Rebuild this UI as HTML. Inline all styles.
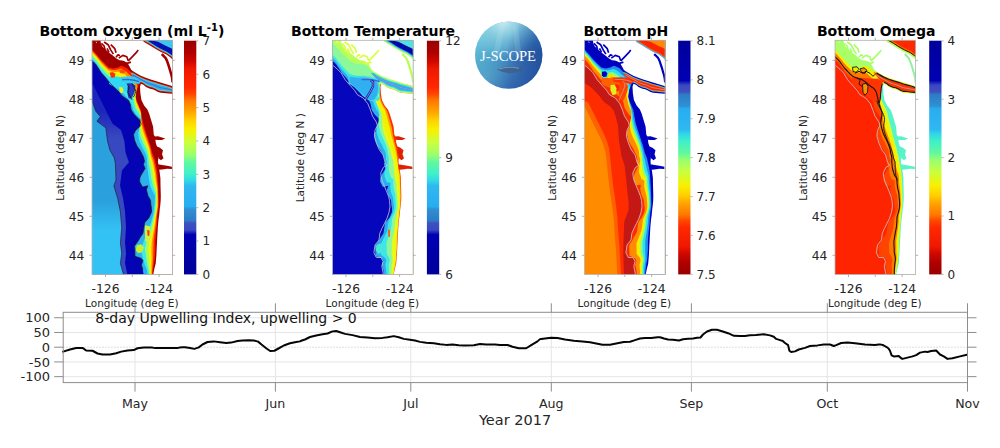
<!DOCTYPE html><html><head><meta charset="utf-8"><style>html,body{margin:0;padding:0;background:#fff;}svg{display:block}</style></head><body>
<svg width="1000" height="448" viewBox="0 0 1000 448" font-family="'DejaVu Sans', 'Liberation Sans', sans-serif">
<defs>
<linearGradient id="jetN" x1="0" y1="0" x2="0" y2="1"><stop offset="0.000" stop-color="#980000"/><stop offset="0.050" stop-color="#b00000"/><stop offset="0.090" stop-color="#d00800"/><stop offset="0.120" stop-color="#f01800"/><stop offset="0.200" stop-color="#ff2800"/><stop offset="0.230" stop-color="#ff4800"/><stop offset="0.255" stop-color="#ff7800"/><stop offset="0.300" stop-color="#ffa000"/><stop offset="0.340" stop-color="#ffd000"/><stop offset="0.380" stop-color="#f8f000"/><stop offset="0.440" stop-color="#c8ff40"/><stop offset="0.490" stop-color="#98ff70"/><stop offset="0.520" stop-color="#60f8a0"/><stop offset="0.570" stop-color="#40f0c8"/><stop offset="0.600" stop-color="#30d8e8"/><stop offset="0.620" stop-color="#30b8f0"/><stop offset="0.710" stop-color="#28acf0"/><stop offset="0.720" stop-color="#3090d4"/><stop offset="0.770" stop-color="#2c7cc4"/><stop offset="0.780" stop-color="#4050c0"/><stop offset="0.810" stop-color="#3848c0"/><stop offset="0.830" stop-color="#0000b4"/><stop offset="1.000" stop-color="#00009a"/></linearGradient>
<linearGradient id="jetR" x1="0" y1="0" x2="0" y2="1"><stop offset="0.000" stop-color="#00009a"/><stop offset="0.170" stop-color="#0000b4"/><stop offset="0.190" stop-color="#3848c0"/><stop offset="0.220" stop-color="#4050c0"/><stop offset="0.230" stop-color="#2c7cc4"/><stop offset="0.280" stop-color="#3090d4"/><stop offset="0.290" stop-color="#28acf0"/><stop offset="0.380" stop-color="#30b8f0"/><stop offset="0.400" stop-color="#30d8e8"/><stop offset="0.430" stop-color="#40f0c8"/><stop offset="0.480" stop-color="#60f8a0"/><stop offset="0.510" stop-color="#98ff70"/><stop offset="0.560" stop-color="#c8ff40"/><stop offset="0.620" stop-color="#f8f000"/><stop offset="0.660" stop-color="#ffd000"/><stop offset="0.700" stop-color="#ffa000"/><stop offset="0.745" stop-color="#ff7800"/><stop offset="0.770" stop-color="#ff4800"/><stop offset="0.800" stop-color="#ff2800"/><stop offset="0.880" stop-color="#f01800"/><stop offset="0.910" stop-color="#d00800"/><stop offset="0.950" stop-color="#b00000"/><stop offset="1.000" stop-color="#980000"/></linearGradient>
<clipPath id="mapclip"><rect x="0" y="0" width="80.6" height="234.1"/></clipPath>
</defs>
<rect width="1000" height="448" fill="#fff"/>
<g transform="translate(92.0,40.3)">
<g clip-path="url(#mapclip)">
<rect x="-2" y="-2" width="84.6" height="238.1" fill="#0404b4"/><linearGradient id="mbg" gradientUnits="userSpaceOnUse" x1="0" y1="70" x2="0" y2="98"><stop offset="0" stop-color="#1c26ba"/><stop offset="1" stop-color="#3848c0"/></linearGradient><polygon points="-2.0,44.3 0.9,44.3 8.3,59.0 15.6,73.7 20.6,83.5 29.0,89.7 32.4,100.9 33.5,112.0 35.7,118.7 37.0,122.0 30.0,130.0 28.0,145.0 31.0,158.0 33.0,171.0 34.0,187.0 33.0,202.0 34.0,213.0 33.0,223.0 36.0,237.0 -2.0,237.0" fill="url(#mbg)"/><linearGradient id="lbg" gradientUnits="userSpaceOnUse" x1="0" y1="160" x2="0" y2="190"><stop offset="0" stop-color="#2aa0dc"/><stop offset="1" stop-color="#34c2f4"/></linearGradient><polygon points="-2.0,61.0 0.5,61.9 3.8,70.9 8.3,76.4 4.9,80.9 9.4,84.3 13.9,87.6 14.5,93.0 15.6,100.9 17.9,109.8 22.3,117.6 23.4,123.2 24.0,139.7 21.9,145.6 25.8,158.5 28.4,171.5 29.7,187.0 28.4,202.6 29.7,212.9 28.4,223.3 32.3,237.0 -2.0,237.0" fill="url(#lbg)"/><polyline points="0.5,61.9 3.8,70.9 8.3,76.4 4.9,80.9 9.4,84.3 13.9,87.6 14.5,93.0 15.6,100.9 17.9,109.8 22.3,117.6 23.4,123.2 24.0,139.7 21.9,145.6 25.8,158.5 28.4,171.5 29.7,187.0 28.4,202.6 29.7,212.9 28.4,223.3 32.3,237.0" fill="none" stroke="#202040" stroke-width="0.7" stroke-linejoin="round"/><polygon points="-2.0,19.5 0.1,20.5 3.5,23.6 7.0,29.0 9.3,32.6 12.7,36.4 18.3,43.1 23.9,48.7 27.3,52.0 30.0,55.5 33.5,58.0 36.5,60.0 38.2,64.0 39.2,69.7 42.4,74.4 47.7,79.8 49.1,83.8 47.7,86.5 43.7,89.9 41.5,94.3 42.5,99.9 44.8,105.5 48.0,110.0 51.5,116.7 52.5,121.0 51.4,124.2 53.1,128.1 49.1,134.8 47.8,137.6 47.7,141.5 50.4,146.8 55.8,145.5 54.4,149.5 55.9,155.4 58.5,160.0 58.9,164.6 59.5,168.3 59.5,171.7 57.0,177.4 52.6,182.5 50.9,193.2 48.0,197.4 46.4,200.2 42.3,206.0 42.8,209.1 43.0,216.0 49.0,218.0 50.9,220.3 49.4,224.6 50.9,229.6 52.0,237.0 52.0,240.0 90.0,240.0 90.0,-5.0 -5.0,-5.0 -5.0,19.5" fill="#2cb0f0"/><polygon points="-2.0,18.5 -0.0,19.2 1.5,20.5 3.0,21.9 4.3,23.6 5.4,25.3 6.6,27.0 7.7,28.7 8.8,30.5 10.1,32.1 11.5,33.6 12.9,35.2 14.2,36.7 15.6,38.3 16.9,39.9 18.3,41.4 19.8,42.8 21.4,44.2 23.0,45.5 24.5,46.9 26.1,48.2 27.6,49.6 29.1,51.1 30.5,52.5 32.0,54.0 33.4,55.5 34.8,57.0 36.2,58.6 37.6,60.1 38.5,62.0 39.4,63.8 40.1,65.8 40.7,67.7 41.4,69.7 42.5,71.5 43.5,73.2 44.8,74.8 46.3,76.3 47.8,77.8 49.1,79.3 49.7,81.3 50.3,83.2 50.0,85.2 49.1,87.1 48.0,88.8 46.8,90.5 46.1,92.3 46.3,94.4 46.6,96.4 46.8,98.5 47.3,100.5 48.1,102.4 49.0,104.3 49.8,106.2 50.7,108.0 51.7,109.8 52.7,111.7 53.6,113.5 54.2,115.5 54.8,117.5 55.0,119.5 55.0,121.6 55.0,123.6 55.2,125.7 55.5,127.8 55.7,129.8 56.0,131.9 56.3,133.9 56.5,136.0 56.8,138.0 57.2,140.0 57.5,142.1 57.9,144.1 58.4,146.1 59.2,148.0 60.0,149.9 61.0,151.8 62.0,153.6 63.0,155.4 62.9,157.4 62.8,159.5 62.7,161.6 62.6,163.6 62.3,165.7 62.0,167.7 61.8,169.8 61.5,171.8 61.2,173.9 60.7,175.9 60.2,177.9 59.6,179.9 59.1,181.9 58.4,183.8 57.7,185.8 57.0,187.7 56.3,189.7 55.6,191.6 54.8,193.6 54.0,195.5 53.2,197.4 52.4,199.3 51.7,201.2 51.0,203.1 50.3,205.1 49.7,207.1 49.0,209.0 49.4,211.1 49.8,213.1 50.3,215.1 50.7,217.1 51.2,219.1 51.8,221.1 52.4,223.1 53.0,225.1 53.9,227.0 54.7,228.9 55.2,230.8 55.4,232.9 55.7,234.9 56.0,237.0 56.0,240.0 90.0,240.0 90.0,-5.0 -5.0,-5.0 -5.0,18.5" fill="#40eae8"/><polygon points="-2.0,15.9 0.0,16.5 1.6,17.9 3.1,19.4 4.4,21.0 5.6,22.8 6.8,24.5 8.0,26.2 9.3,27.9 10.6,29.5 12.1,31.0 13.5,32.6 14.9,34.2 16.5,35.5 18.0,36.7 19.6,37.8 21.3,38.6 23.0,39.4 24.7,40.1 26.4,41.3 28.1,42.5 29.7,43.9 31.2,45.4 32.7,46.8 34.2,48.3 35.8,49.7 37.1,51.3 38.5,52.9 39.7,54.6 40.5,56.5 41.3,58.5 41.7,60.5 42.0,62.4 42.3,64.4 43.0,66.3 43.7,68.2 44.6,70.0 45.8,71.6 47.1,73.2 48.2,74.9 48.9,76.9 49.6,78.9 49.6,80.9 49.1,82.8 48.4,84.7 47.7,86.5 47.2,88.4 47.5,90.5 47.8,92.6 48.1,94.7 48.6,96.7 49.4,98.7 50.2,100.6 51.0,102.6 51.9,104.5 52.8,106.4 53.7,108.3 54.5,110.2 55.2,112.2 55.8,114.2 56.1,116.3 56.2,118.4 56.4,120.5 56.7,122.5 57.1,124.6 57.6,126.6 57.9,128.7 58.2,130.8 58.5,132.9 58.9,135.0 59.2,137.0 59.6,139.1 59.9,141.2 60.4,143.2 61.0,145.2 61.6,147.2 62.3,149.2 63.1,151.1 63.9,153.0 63.8,155.1 63.8,157.2 63.7,159.3 63.6,161.4 63.5,163.5 63.3,165.6 63.1,167.7 62.9,169.8 62.6,171.9 62.3,173.9 61.8,176.0 61.3,178.0 60.8,180.1 60.3,182.1 59.7,184.1 59.2,186.1 58.6,188.2 58.0,190.2 57.5,192.2 56.8,194.2 56.1,196.2 55.5,198.1 54.9,200.1 54.4,202.2 53.9,204.2 53.4,206.2 52.9,208.3 53.2,210.3 53.5,212.4 53.8,214.5 54.0,216.6 54.4,218.6 54.7,220.6 55.1,222.7 55.4,224.7 55.9,226.7 56.4,228.7 56.7,230.7 56.9,232.8 57.1,234.9 57.2,237.0 57.2,240.0 90.0,240.0 90.0,-5.0 -5.0,-5.0 -5.0,15.9" fill="#98ff68"/><polygon points="-2.0,13.8 0.1,14.3 1.6,15.7 3.1,17.3 4.5,18.9 5.8,20.6 7.0,22.3 8.3,24.0 9.7,25.7 11.1,27.3 12.6,28.8 14.0,30.4 15.5,32.0 17.2,33.0 19.0,34.0 20.7,34.6 22.6,35.1 24.4,35.3 26.2,35.5 28.0,36.5 29.8,37.7 31.5,39.0 33.0,40.5 34.5,42.0 36.2,43.4 37.8,44.8 39.1,46.4 40.5,48.1 41.5,49.9 42.3,51.9 43.0,53.9 43.1,55.9 43.0,57.9 43.0,60.0 43.4,62.0 43.8,63.9 44.3,65.8 45.4,67.6 46.5,69.4 47.5,71.2 48.3,73.2 49.0,75.2 49.3,77.2 49.1,79.2 48.7,81.2 48.3,83.1 48.2,85.1 48.5,87.2 48.8,89.3 49.2,91.4 49.8,93.5 50.5,95.5 51.3,97.5 52.1,99.5 52.9,101.5 53.7,103.4 54.5,105.4 55.3,107.4 56.0,109.4 56.6,111.5 57.0,113.5 57.3,115.7 57.6,117.8 58.0,119.8 58.6,121.9 59.1,123.9 59.5,126.0 59.9,128.1 60.3,130.3 60.6,132.4 61.0,134.5 61.4,136.6 61.6,138.7 62.0,140.8 62.5,142.9 62.9,144.9 63.5,146.9 64.0,149.0 64.6,151.0 64.6,153.1 64.6,155.2 64.6,157.4 64.6,159.5 64.5,161.7 64.4,163.8 64.3,165.9 64.2,168.0 63.9,170.2 63.6,172.3 63.1,174.4 62.7,176.5 62.3,178.6 61.9,180.6 61.5,182.7 61.1,184.8 60.6,186.9 60.1,189.0 59.7,191.0 59.1,193.1 58.6,195.1 58.1,197.2 57.7,199.3 57.2,201.3 56.9,203.4 56.5,205.5 56.2,207.6 56.4,209.7 56.6,211.8 56.7,213.9 56.9,216.1 57.0,218.2 57.2,220.3 57.3,222.3 57.5,224.4 57.7,226.5 57.9,228.5 58.1,230.6 58.1,232.7 58.2,234.9 58.2,237.0 58.2,240.0 90.0,240.0 90.0,-5.0 -5.0,-5.0 -5.0,13.8" fill="#f8f000"/><polygon points="-2.0,11.7 0.1,12.1 1.7,13.6 3.1,15.2 4.6,16.8 5.9,18.6 7.3,20.3 8.6,22.0 10.0,23.6 11.5,25.2 13.0,26.7 14.5,28.3 16.1,29.9 18.0,30.7 19.9,31.4 21.8,31.6 23.8,31.7 25.7,31.4 27.6,31.1 29.5,32.0 31.4,33.1 33.2,34.3 34.7,35.8 36.3,37.3 38.0,38.7 39.7,40.1 41.0,41.8 42.3,43.5 43.2,45.4 43.9,47.5 44.6,49.5 44.4,51.6 44.0,53.6 43.7,55.7 43.8,57.8 43.8,59.8 44.1,61.8 45.0,63.8 45.9,65.7 46.8,67.6 47.6,69.7 48.4,71.7 49.0,73.7 49.1,75.7 49.0,77.8 49.0,79.9 49.1,81.9 49.4,84.1 49.8,86.2 50.3,88.3 50.9,90.4 51.6,92.5 52.3,94.5 53.1,96.6 53.8,98.6 54.6,100.6 55.4,102.6 56.1,104.7 56.8,106.7 57.4,108.8 57.9,110.9 58.3,113.1 58.7,115.2 59.2,117.3 59.9,119.3 60.6,121.4 61.0,123.5 61.5,125.6 61.9,127.7 62.3,129.9 62.7,132.0 63.1,134.2 63.3,136.3 63.6,138.5 63.9,140.6 64.2,142.7 64.6,144.8 64.9,146.9 65.3,149.0 65.4,151.2 65.4,153.4 65.4,155.5 65.5,157.7 65.5,159.9 65.4,162.0 65.4,164.2 65.4,166.4 65.1,168.5 64.8,170.7 64.4,172.8 64.0,175.0 63.7,177.1 63.4,179.2 63.1,181.4 62.9,183.5 62.5,185.6 62.2,187.8 61.8,189.9 61.4,192.0 61.0,194.1 60.6,196.3 60.3,198.4 60.0,200.5 59.7,202.7 59.6,204.8 59.4,207.0 59.5,209.1 59.5,211.3 59.5,213.4 59.6,215.6 59.6,217.8 59.6,219.9 59.5,222.0 59.4,224.2 59.4,226.3 59.4,228.4 59.3,230.5 59.3,232.7 59.3,234.8 59.2,237.0 59.2,240.0 90.0,240.0 90.0,-5.0 -5.0,-5.0 -5.0,11.7" fill="#ff9000"/><polygon points="-2.0,10.3 0.2,10.7 1.7,12.3 3.2,13.9 4.6,15.5 6.0,17.2 7.4,19.0 8.8,20.7 10.3,22.2 11.8,23.8 13.3,25.4 14.9,26.9 16.4,28.5 18.4,29.2 20.5,29.8 22.5,29.7 24.6,29.5 26.6,29.0 28.5,28.3 30.5,29.1 32.4,30.1 34.3,31.3 35.8,32.9 37.4,34.4 39.2,35.7 40.9,37.1 42.2,38.8 43.5,40.6 44.3,42.6 45.0,44.7 45.6,46.8 45.2,48.8 44.7,50.9 44.2,53.0 44.0,55.1 43.9,57.2 44.0,59.3 44.7,61.3 45.5,63.4 46.4,65.4 47.2,67.4 48.1,69.4 48.8,71.4 49.1,73.5 49.2,75.7 49.4,77.8 49.7,79.9 50.0,82.1 50.4,84.2 51.0,86.3 51.6,88.5 52.3,90.5 53.0,92.6 53.7,94.7 54.4,96.7 55.2,98.8 55.9,100.9 56.6,102.9 57.3,105.0 58.0,107.1 58.5,109.3 58.9,111.4 59.4,113.5 60.0,115.6 60.8,117.7 61.6,119.7 62.0,121.9 62.5,124.0 62.9,126.1 63.3,128.3 63.7,130.5 64.1,132.6 64.3,134.8 64.5,137.0 64.8,139.2 65.0,141.3 65.3,143.5 65.5,145.6 65.8,147.8 65.8,150.0 65.9,152.2 66.0,154.4 66.0,156.6 66.1,158.7 66.1,160.9 66.1,163.1 66.1,165.3 65.9,167.5 65.6,169.7 65.2,171.8 64.9,174.0 64.6,176.2 64.4,178.3 64.2,180.5 64.0,182.7 63.7,184.9 63.4,187.0 63.1,189.2 62.8,191.4 62.5,193.5 62.2,195.7 62.0,197.9 61.7,200.0 61.6,202.2 61.5,204.4 61.4,206.6 61.4,208.8 61.4,210.9 61.3,213.1 61.3,215.3 61.2,217.5 61.1,219.7 60.9,221.8 60.7,224.0 60.5,226.1 60.3,228.3 60.1,230.4 60.0,232.6 60.0,234.8 59.9,237.0 59.9,240.0 90.0,240.0 90.0,-5.0 -5.0,-5.0 -5.0,10.3" fill="#ff2000"/><polygon points="-2.0,9.0 0.3,9.4 4.4,13.9 8.8,19.2 13.3,23.7 16.9,27.3 21.3,28.2 25.8,27.3 29.4,25.5 32.0,26.4 35.0,28.0 38.0,31.0 42.0,34.0 45.0,38.0 46.7,44.4 44.7,49.7 43.7,56.4 45.4,61.8 47.4,66.5 48.8,69.7 49.6,74.4 51.1,82.5 53.1,89.2 55.8,97.2 58.4,105.2 60.5,113.3 62.5,118.0 63.9,124.2 65.2,131.0 65.7,137.6 66.3,148.0 66.6,155.4 66.9,164.6 65.5,175.0 65.1,182.5 64.0,193.2 63.4,200.2 63.4,209.1 62.8,218.0 61.0,229.6 60.5,237.0 60.5,240.0 90.0,240.0 90.0,-5.0 -5.0,-5.0 -5.0,9.0" fill="#a00000"/><polygon points="44.6,205.0 49.0,204.0 52.0,207.0 50.0,212.0 46.0,213.0 44.0,210.0" fill="#c8f030"/><polygon points="55.3,189.0 57.6,190.5 57.2,196.0 55.5,195.0" fill="#ff3000"/><polygon points="53.0,185.0 58.0,186.0 59.0,197.0 56.0,203.0 53.0,200.0" fill="#d0f040"/><polygon points="55.3,189.5 57.6,190.5 57.2,196.0 55.5,195.0" fill="#ff3000"/><polygon points="38.5,30.5 41.5,31.1 44.8,33.2 48.8,35.4 53.8,37.5 58.7,39.2 63.6,40.6 68.5,42.3 73.4,43.6 78.4,45.1 80.3,46.0 84.0,46.5 84.0,52.6 80.3,53.5 76.7,53.3 71.4,52.6 68.7,52.5 66.0,51.6 63.4,50.2 60.7,48.9 58.0,48.4 54.0,46.6 51.4,44.5 48.9,43.4 46.5,43.5" fill="#a00000"/><polygon points="38.5,31.9 41.5,32.5 44.8,34.6 48.8,36.8 53.8,38.9 58.7,40.6 63.6,42.0 68.5,43.7 73.4,45.0 78.4,46.5 80.3,47.4 84.0,47.9 84.0,51.2 80.3,52.1 76.7,51.9 71.4,51.2 68.7,51.1 66.0,50.2 63.4,48.8 60.7,47.5 58.0,47.0 54.0,45.2 51.4,43.1 48.9,42.0 46.5,42.1" fill="#ff4000"/><polygon points="38.5,32.5 41.5,33.1 44.8,35.2 48.8,37.4 53.8,39.5 58.7,41.2 63.6,42.6 68.5,44.3 73.4,45.6 78.4,47.1 80.3,48.0 84.0,48.5 84.0,50.6 80.3,51.5 76.7,51.3 71.4,50.6 68.7,50.5 66.0,49.6 63.4,48.2 60.7,46.9 58.0,46.4 54.0,44.6 51.4,42.5 48.9,41.4 46.5,41.5" fill="#30e0e8"/><polygon points="38.5,33.3 41.5,33.9 44.8,36.0 48.8,38.2 53.8,40.3 58.7,42.0 63.6,43.4 68.5,45.1 73.4,46.4 78.4,47.9 80.3,48.8 84.0,49.3 84.0,49.8 80.3,50.7 76.7,50.5 71.4,49.8 68.7,49.7 66.0,48.8 63.4,47.4 60.7,46.1 58.0,45.6 54.0,43.8 51.4,41.7 48.9,40.6 46.5,40.7" fill="#30b0f0"/><polyline points="41.0,34.5 42.0,35.2 43.0,35.8 44.0,36.4 45.0,37.0 46.0,37.6 47.0,38.1 48.0,38.7 49.1,39.3 50.1,39.8 51.1,40.3 52.2,40.9 53.2,41.5 54.2,42.1 55.2,42.5 56.3,43.0 57.4,43.4 58.5,43.8 59.6,44.1 60.7,44.4 61.8,44.7 62.9,45.2 64.0,45.6 65.1,46.1 66.1,46.5 67.2,46.9 68.4,47.3 69.5,47.6 70.6,47.8 71.8,47.9 72.9,48.2 74.1,48.4 75.2,48.6 76.3,48.9 77.5,49.1 78.6,49.3 79.7,49.6 80.9,49.8 82.0,49.8 83.0,49.5" fill="none" stroke="#5060d0" stroke-width="1.0" stroke-linejoin="round"/><polygon points="18.0,35.0 25.0,36.5 32.0,37.5 38.0,38.5 41.0,41.0 42.0,46.0 40.0,50.0 35.0,52.0 30.0,50.0 25.0,47.5 20.0,45.5 17.0,43.5" fill="#30d8f4"/><polygon points="17.5,32.5 20.5,31.8 23.5,33.5 22.5,37.2 19.5,37.4" fill="#ff3000"/><polygon points="27.0,29.8 31.0,29.5 33.5,31.2 31.5,33.3 28.0,32.8" fill="#ff5000"/><polygon points="27.2,46.7 30.5,47.0 31.4,50.0 30.2,53.0 27.8,52.0" fill="#e8f020"/><polygon points="29.0,36.8 36.0,36.0 41.0,36.2 45.0,38.0 48.5,41.0 47.5,43.8 42.0,43.0 36.0,42.5 29.0,41.5" fill="#30d0f0"/><polygon points="36.0,43.0 40.5,43.0 43.5,45.5 43.2,50.0 41.5,54.5 39.0,58.5 36.5,58.0 35.5,53.5 35.5,48.0" fill="#2838c0"/><polyline points="30.0,39.3 36.0,39.1 42.0,39.9 47.0,41.3" fill="none" stroke="#4a5cd0" stroke-width="1.4" stroke-linejoin="round"/><polyline points="35.0,43.0 37.0,47.0 35.8,52.0 38.0,56.0 40.0,59.5" fill="none" stroke="#101010" stroke-width="0.8" stroke-linejoin="round"/><polyline points="40.0,43.5 42.5,47.5 43.8,51.0 42.5,55.0 41.0,57.0" fill="none" stroke="#101010" stroke-width="0.8" stroke-linejoin="round"/><polygon points="49.0,-3.0 51.6,1.4 57.2,4.6 62.9,8.3 68.5,11.4 74.1,14.0 78.5,17.1 81.0,19.6 84.0,21.0 84.0,-3.0" fill="#a00000"/><polygon points="49.0,-3.0 52.0,0.6 57.6,3.8 63.3,7.5 68.9,10.6 74.5,13.2 78.9,16.3 81.4,18.8 84.4,20.2 84.0,-3.0" fill="#ff4000"/><polygon points="49.0,-3.0 52.3,0.1 58.0,3.2 63.6,6.9 69.2,10.0 74.8,12.6 79.2,15.7 81.7,18.2 84.7,19.6 84.0,-3.0" fill="#30d0f0"/><polygon points="49.0,-3.0 52.8,-0.9 58.5,2.2 64.1,5.9 69.7,9.0 75.3,11.6 79.7,14.7 82.2,17.2 85.2,18.6 84.0,-3.0" fill="#0a10b0"/><polygon points="59.8,-3.0 59.8,0.2 66.0,1.4 72.2,4.6 78.5,7.7 84.0,10.5 84.0,-3.0" fill="#38c8f0"/><polyline points="0.1,20.5 3.5,23.6 7.0,29.0 9.3,32.6 12.7,36.4 18.3,43.1 23.9,48.7 27.3,52.0 30.0,55.5 33.5,58.0 36.5,60.0 38.2,64.0 39.2,69.7 42.4,74.4 47.7,79.8 49.1,83.8 47.7,86.5 43.7,89.9 41.5,94.3 42.5,99.9 44.8,105.5 48.0,110.0 51.5,116.7 52.5,121.0 51.4,124.2 53.1,128.1 49.1,134.8 47.8,137.6 47.7,141.5 50.4,146.8 55.8,145.5 54.4,149.5 55.9,155.4 58.5,160.0 58.9,164.6 59.5,168.3 59.5,171.7 57.0,177.4 52.6,182.5 50.9,193.2 48.0,197.4 46.4,200.2 42.3,206.0 42.8,209.1 43.0,216.0 49.0,218.0 50.9,220.3 49.4,224.6 50.9,229.6" fill="none" stroke="#181818" stroke-width="0.7" stroke-linejoin="round"/><polygon points="51.0,-2.0 51.6,1.4 57.2,4.6 62.9,8.3 68.5,11.4 74.1,14.0 78.5,17.1 81.0,19.6 82.0,20.0 82.0,45.5 80.3,46.0 78.4,45.1 73.4,43.6 68.5,42.3 63.6,40.6 58.7,39.2 53.8,37.5 48.8,35.4 44.8,33.2 41.5,31.1 39.4,29.7 37.5,26.2 36.0,23.5 33.5,21.5 30.5,20.2 27.5,20.0 24.5,18.2 21.5,15.8 18.5,13.5 15.5,11.0 12.5,8.5 10.2,6.0 8.8,3.0 8.2,-2.0" fill="#fff"/><polygon points="82.0,53.6 80.3,53.5 76.7,53.3 71.4,52.6 68.7,52.5 66.0,51.6 63.4,50.2 60.7,48.9 58.0,48.4 54.0,46.6 51.4,44.5 48.9,43.4 48.0,46.4 48.4,53.1 49.4,59.8 52.1,65.2 55.4,69.2 57.1,73.1 59.1,79.8 61.1,86.5 61.8,94.5 63.1,96.5 63.8,102.6 65.1,106.6 66.5,115.9 66.0,121.4 66.5,126.0 67.5,131.0 68.4,137.6 68.5,145.0 68.8,155.4 68.7,160.0 68.3,164.6 67.8,168.3 67.2,174.7 66.6,178.8 65.9,186.0 65.1,200.3 64.4,214.6 63.7,223.1 62.3,228.8 60.9,236.0 82.0,236.0" fill="#fff"/><polygon points="3.8,-2.0 5.3,-2.0 5.3,1.6 4.6,2.6 3.9,1.8" fill="#fff"/><polyline points="69.7,13.8 71.5,15.5 73.7,17.8 75.2,21.0 76.4,24.5 77.5,28.0 78.4,31.2 79.4,34.5 80.2,38.0 80.6,42.0" fill="none" stroke="#a00000" stroke-width="2.6" stroke-linejoin="round"/><polyline points="4.0,0.4 6.0,1.5 8.0,3.1" fill="none" stroke="#a00000" stroke-width="1.7" stroke-linejoin="round"/><polyline points="9.4,3.1 12.1,5.7 13.4,11.1 17.4,15.1" fill="none" stroke="#a00000" stroke-width="1.7" stroke-linejoin="round"/><polyline points="12.1,1.7 16.1,4.4 18.8,9.8 21.4,13.8" fill="none" stroke="#a00000" stroke-width="1.7" stroke-linejoin="round"/><polyline points="18.8,4.4 22.8,8.4 24.1,12.4" fill="none" stroke="#a00000" stroke-width="1.7" stroke-linejoin="round"/><polyline points="15.0,8.0 17.0,12.0" fill="none" stroke="#a00000" stroke-width="1.7" stroke-linejoin="round"/><polyline points="26.8,17.8 30.8,15.1 34.8,16.5 36.2,20.5" fill="none" stroke="#a00000" stroke-width="1.7" stroke-linejoin="round"/><polyline points="36.2,20.5 40.2,16.5 44.2,12.4 46.2,9.8" fill="none" stroke="#a00000" stroke-width="1.7" stroke-linejoin="round"/><polyline points="30.8,21.8 34.8,23.1 38.9,21.8" fill="none" stroke="#a00000" stroke-width="1.7" stroke-linejoin="round"/><polyline points="24.0,17.0 26.0,14.5 28.0,15.5" fill="none" stroke="#a00000" stroke-width="1.7" stroke-linejoin="round"/><polygon points="62.5,96.2 66.0,96.0 70.0,97.2 73.2,98.2 70.0,99.6 66.0,99.8 63.0,99.5" fill="#a00000"/><polygon points="64.5,106.0 68.0,107.5 71.0,110.0 70.0,114.0 71.5,118.0 69.0,120.0 66.5,118.0 65.2,112.0" fill="#a00000"/><polygon points="66.0,124.0 70.0,124.6 75.0,125.5 79.9,126.5 79.9,128.6 75.0,128.4 70.0,129.2 66.2,129.4" fill="#a00000"/>
</g>
<rect x="0" y="0" width="80.6" height="234.1" fill="none" stroke="#b4b4b4" stroke-width="0.8"/>
<path d="M13.5 0v-2.6M13.5 234.1v2.6M40.3 0v-2.6M40.3 234.1v2.6M67.1 0v-2.6M67.1 234.1v2.6M0 20.0h-2.6M80.6 20.0h2.6M0 59.0h-2.6M80.6 59.0h2.6M0 98.0h-2.6M80.6 98.0h2.6M0 137.0h-2.6M80.6 137.0h2.6M0 176.0h-2.6M80.6 176.0h2.6M0 215.0h-2.6M80.6 215.0h2.6" stroke="#a0a0a0" stroke-width="0.8" fill="none"/>
<text x="-7.6" y="24.3" font-size="12.3" text-anchor="end" fill="#262626">49</text>
<text x="-7.6" y="63.3" font-size="12.3" text-anchor="end" fill="#262626">48</text>
<text x="-7.6" y="102.3" font-size="12.3" text-anchor="end" fill="#262626">47</text>
<text x="-7.6" y="141.3" font-size="12.3" text-anchor="end" fill="#262626">46</text>
<text x="-7.6" y="180.3" font-size="12.3" text-anchor="end" fill="#262626">45</text>
<text x="-7.6" y="219.3" font-size="12.3" text-anchor="end" fill="#262626">44</text>
<text x="13.5" y="252.5" font-size="12.3" text-anchor="middle" fill="#262626">-126</text>
<text x="67.1" y="252.5" font-size="12.3" text-anchor="middle" fill="#262626">-124</text>
<text x="39.8" y="266.3" font-size="10.5" text-anchor="middle" fill="#262626">Longitude (deg E)</text>
<text transform="translate(-28.2,117.5) rotate(-90)" font-size="10.5" text-anchor="middle" fill="#262626">Latitude (deg N)</text>
<rect x="92.0" y="0.4" width="12.3" height="233.7" fill="url(#jetN)"/>
<path d="M104.3 234.1h2" stroke="#a0a0a0" stroke-width="0.8"/>
<text x="110.4" y="238.5" font-size="12" fill="#262626">0</text>
<path d="M104.3 200.74285714285713h2" stroke="#a0a0a0" stroke-width="0.8"/>
<text x="110.4" y="205.14285714285714" font-size="12" fill="#262626">1</text>
<path d="M104.3 167.3857142857143h2" stroke="#a0a0a0" stroke-width="0.8"/>
<text x="110.4" y="171.7857142857143" font-size="12" fill="#262626">2</text>
<path d="M104.3 134.0285714285714h2" stroke="#a0a0a0" stroke-width="0.8"/>
<text x="110.4" y="138.42857142857142" font-size="12" fill="#262626">3</text>
<path d="M104.3 100.67142857142858h2" stroke="#a0a0a0" stroke-width="0.8"/>
<text x="110.4" y="105.07142857142858" font-size="12" fill="#262626">4</text>
<path d="M104.3 67.31428571428572h2" stroke="#a0a0a0" stroke-width="0.8"/>
<text x="110.4" y="71.71428571428572" font-size="12" fill="#262626">5</text>
<path d="M104.3 33.957142857142856h2" stroke="#a0a0a0" stroke-width="0.8"/>
<text x="110.4" y="38.357142857142854" font-size="12" fill="#262626">6</text>
<path d="M104.3 0.5999999999999943h2" stroke="#a0a0a0" stroke-width="0.8"/>
<text x="110.4" y="4.999999999999995" font-size="12" fill="#262626">7</text>
</g>
<text x="39.5" y="35.6" font-size="14.05" font-weight="bold" fill="#000">Bottom Oxygen (ml L<tspan dy="-5" font-size="10">-1</tspan><tspan dy="5">)</tspan></text>
<g transform="translate(332.5,40.3)">
<g clip-path="url(#mapclip)">
<rect x="-2" y="-2" width="84.6" height="238.1" fill="#0606bc"/><polygon points="-2.0,19.5 0.1,20.5 3.5,23.6 7.0,29.0 9.3,32.6 12.7,36.4 18.3,43.1 23.9,48.7 27.3,52.0 30.0,55.5 33.5,58.0 36.5,60.0 38.2,64.0 39.2,69.7 42.4,74.4 47.7,79.8 49.1,83.8 47.7,86.5 43.7,89.9 41.5,94.3 42.5,99.9 44.8,105.5 48.0,110.0 51.5,116.7 52.5,121.0 51.4,124.2 53.1,128.1 49.1,134.8 47.8,137.6 47.7,141.5 50.4,146.8 55.8,145.5 54.4,149.5 55.9,155.4 58.5,160.0 58.9,164.6 59.5,168.3 59.5,171.7 57.0,177.4 52.6,182.5 50.9,193.2 48.0,197.4 46.4,200.2 42.3,206.0 42.8,209.1 43.0,216.0 49.0,218.0 50.9,220.3 49.4,224.6 50.9,229.6 52.0,237.0 52.0,240.0 90.0,240.0 90.0,-5.0 -5.0,-5.0 -5.0,19.5" fill="#2cacf0"/><polygon points="-2.0,16.7 0.0,17.5 1.7,19.0 3.3,20.5 4.6,22.3 5.8,24.1 7.1,25.9 8.4,27.7 9.7,29.5 11.2,31.1 12.7,32.7 14.1,34.4 15.6,36.1 17.2,37.5 18.8,38.8 20.5,39.9 22.3,40.9 24.0,41.8 25.6,42.7 27.4,44.0 29.1,45.4 30.5,47.0 32.0,48.7 33.7,50.0 35.5,51.3 37.4,52.6 38.7,54.3 39.7,56.2 40.3,58.3 40.7,60.5 41.2,62.7 41.9,64.6 42.6,66.5 43.4,68.3 44.5,70.1 45.5,71.8 46.6,73.6 47.4,75.6 48.0,77.7 47.5,79.7 46.6,81.4 45.6,83.0 44.8,84.8 44.2,86.8 43.7,88.8 44.1,91.0 44.5,93.2 45.0,95.3 45.7,97.4 46.5,99.5 47.6,101.4 48.7,103.3 49.7,105.2 50.7,107.2 51.6,109.2 52.6,111.2 53.2,113.4 53.7,115.5 53.5,117.6 53.5,119.7 54.3,121.7 54.5,123.8 53.8,125.7 53.1,127.7 52.6,129.6 52.1,131.6 51.9,133.8 52.0,136.0 52.7,138.0 53.5,140.1 54.4,141.9 56.1,142.1 57.7,142.4 58.1,143.7 57.6,145.8 57.8,148.0 58.2,150.1 58.6,152.3 59.4,154.3 60.2,156.3 60.7,158.4 60.9,160.6 61.1,162.8 61.4,165.0 61.5,167.2 61.3,169.4 60.7,171.5 60.0,173.6 59.1,175.5 57.9,177.4 56.8,179.2 56.0,181.1 55.7,183.3 55.4,185.5 55.1,187.7 54.8,189.9 54.2,192.0 53.2,193.9 52.2,195.8 51.4,197.8 50.4,199.8 49.4,201.7 48.5,203.6 48.1,205.7 48.4,207.9 48.4,210.1 48.5,212.3 48.5,214.5 50.0,215.6 51.5,216.8 52.9,218.0 53.8,219.8 53.5,221.9 52.9,224.0 53.0,226.1 53.4,228.2 53.7,230.4 53.9,232.6 54.1,234.8 54.3,237.0 54.3,240.0 90.0,240.0 90.0,-5.0 -5.0,-5.0 -5.0,16.7" fill="#3ee6e8"/><polygon points="-2.0,13.7 0.1,14.4 1.7,15.9 3.2,17.5 4.6,19.2 5.9,21.0 7.3,22.7 8.6,24.5 10.0,26.2 11.5,27.8 13.0,29.4 14.6,31.0 16.1,32.7 17.9,33.7 19.7,34.7 21.6,35.3 23.5,35.7 25.3,35.9 27.1,36.1 29.0,37.2 30.8,38.4 32.4,39.9 33.9,41.5 35.6,42.9 37.4,44.2 39.2,45.5 40.5,47.2 41.6,49.1 42.3,51.2 42.8,53.3 43.3,55.5 43.5,57.5 43.6,59.4 43.9,61.4 44.4,63.3 44.9,65.2 45.5,67.1 46.3,69.2 46.9,71.3 46.9,73.3 46.7,75.2 46.4,77.0 46.2,78.8 46.1,80.9 45.9,83.0 46.3,85.1 46.7,87.3 47.2,89.5 47.8,91.6 48.5,93.7 49.4,95.7 50.3,97.7 51.2,99.7 52.1,101.7 52.9,103.7 53.8,105.8 54.4,107.9 55.0,110.0 55.1,112.1 55.4,114.2 56.1,116.3 56.4,118.4 56.2,120.4 56.1,122.4 56.0,124.4 56.1,126.4 56.1,128.6 56.4,130.8 57.0,132.9 57.7,135.0 58.4,136.9 59.6,137.9 60.7,138.9 61.0,140.5 60.7,142.7 60.9,144.9 61.2,147.1 61.5,149.2 62.0,151.3 62.6,153.4 62.9,155.6 63.0,157.8 63.2,160.0 63.4,162.2 63.5,164.4 63.4,166.6 63.1,168.7 62.5,170.9 61.9,172.9 61.1,174.9 60.2,176.8 59.6,178.9 59.4,181.1 59.2,183.3 59.0,185.5 58.7,187.7 58.2,189.8 57.5,191.8 56.9,193.9 56.2,195.9 55.6,198.0 54.9,200.0 54.2,202.0 54.0,204.2 54.1,206.4 54.2,208.6 54.2,210.8 54.2,213.0 55.0,214.6 55.9,216.1 56.7,217.7 57.2,219.7 56.9,221.8 56.4,223.9 56.3,226.1 56.4,228.2 56.5,230.4 56.5,232.6 56.6,234.8 56.7,237.0 56.7,240.0 90.0,240.0 90.0,-5.0 -5.0,-5.0 -5.0,13.7" fill="#8cf89c"/><polygon points="43.4,46.6 43.2,48.1 43.0,49.5 42.8,51.0 42.8,52.4 42.8,54.0 42.8,55.7 42.7,57.3 42.9,59.0 43.3,60.6 43.8,62.2 44.4,63.7 45.1,65.3 45.8,66.8 46.6,68.3 47.4,69.7 48.2,71.2 48.7,72.7 49.1,74.4 49.4,76.0 49.7,77.6 49.7,79.3 49.8,80.8 49.7,82.4 49.7,83.9 49.9,85.5 50.1,87.1 50.3,88.7 50.8,90.3 51.2,91.9 51.7,93.5 52.3,95.1 52.8,96.7 53.4,98.3 54.0,99.8 54.6,101.4 55.2,102.9 55.8,104.5 56.4,106.1 56.9,107.7 57.4,109.3 57.9,110.9 58.3,112.5 58.7,114.1 59.1,115.7 59.5,117.3 60.1,118.8 60.7,120.4 60.9,122.0 61.0,123.6 61.1,125.2 61.2,126.8 61.3,128.4 61.4,130.1 61.6,131.7 61.7,133.4 61.9,135.1 62.2,136.7 62.4,138.3 62.7,139.9 63.2,141.1 63.6,142.4 64.0,143.7 63.9,145.3 63.9,147.0 64.0,148.6 64.1,150.3 64.3,152.0 64.5,153.6 64.7,155.3 64.9,156.9 65.1,158.6 65.1,160.3 65.2,161.9 65.3,163.6 65.4,165.3 65.2,167.0 65.1,168.6 64.8,170.3 64.4,171.9 64.1,173.6 63.7,175.2 63.4,176.8 63.1,178.4 62.8,180.0 62.6,181.6 62.5,183.3 62.3,185.0 62.1,186.6 61.9,188.3 61.7,190.0 61.4,191.6 61.1,193.2 60.7,194.8 60.4,196.5 60.1,198.1 59.8,199.7 59.5,201.3 59.3,202.9 59.2,204.6 59.3,206.3 59.3,207.9 59.3,209.6 59.2,211.3 59.1,213.0 59.3,214.5 59.5,215.9 59.8,217.4 60.0,218.8 60.0,220.4 59.8,222.0 59.5,223.7 59.2,225.3 59.1,227.0 59.0,228.6 58.9,230.3 58.9,232.0 58.9,233.6 58.8,235.3 58.8,237.0 58.8,240.0 90.0,240.0 90.0,42.6 40.4,42.6" fill="#e8f818"/><polygon points="46.7,44.4 46.1,45.9 45.5,47.5 44.9,49.0 44.6,50.6 44.3,52.3 44.1,53.9 43.8,55.5 43.9,57.1 44.4,58.7 44.9,60.3 45.4,61.9 46.1,63.4 46.7,64.9 47.4,66.4 48.0,68.0 48.7,69.5 49.0,71.1 49.3,72.7 49.6,74.3 49.9,76.0 50.2,77.6 50.5,79.2 50.8,80.8 51.1,82.5 51.6,84.1 52.0,85.6 52.5,87.2 53.0,88.8 53.5,90.4 54.0,91.9 54.6,93.5 55.1,95.1 55.6,96.6 56.1,98.2 56.6,99.8 57.2,101.4 57.7,102.9 58.2,104.5 58.6,106.1 59.0,107.7 59.5,109.3 59.9,110.9 60.3,112.5 60.8,114.0 61.5,115.6 62.1,117.1 62.6,118.6 63.0,120.3 63.4,121.9 63.7,123.5 64.1,125.1 64.4,126.7 64.7,128.4 65.0,130.0 65.2,131.6 65.4,133.3 65.5,134.9 65.6,136.6 65.7,138.2 65.8,139.9 65.9,141.5 66.0,143.2 66.1,144.8 66.2,146.5 66.3,148.1 66.4,149.8 66.4,151.4 66.5,153.1 66.6,154.7 66.6,156.4 66.7,158.0 66.7,159.7 66.8,161.3 66.8,163.0 66.9,164.6 66.7,166.3 66.5,167.9 66.2,169.5 66.0,171.2 65.8,172.8 65.6,174.5 65.4,176.1 65.4,177.8 65.3,179.4 65.2,181.1 65.1,182.7 64.9,184.3 64.7,186.0 64.6,187.6 64.4,189.3 64.2,190.9 64.1,192.6 63.9,194.2 63.8,195.9 63.6,197.5 63.5,199.2 63.4,200.8 63.4,202.5 63.4,204.1 63.4,205.8 63.4,207.4 63.4,209.1 63.3,210.7 63.2,212.4 63.1,214.0 63.0,215.7 62.8,217.3 62.7,219.0 62.4,220.6 62.1,222.2 61.9,223.9 61.6,225.5 61.4,227.1 61.1,228.8 60.9,230.4 60.8,232.1 60.7,233.7 60.6,235.4 60.5,237.0 60.5,240.0 90.0,240.0 90.0,40.4 43.7,40.4" fill="#f0f000"/><polygon points="47.6,44.0 47.2,45.6 46.9,47.2 46.7,48.8 46.6,50.5 46.5,52.1 46.5,53.7 46.5,55.4 46.7,57.0 47.1,58.6 47.5,60.2 48.1,61.7 48.8,63.2 49.5,64.7 50.3,66.2 51.2,67.6 52.1,68.9 52.7,70.4 53.2,72.0 53.7,73.6 54.1,75.2 54.5,76.8 54.9,78.4 55.3,80.0 55.7,81.6 56.1,83.2 56.6,84.8 57.1,86.4 57.5,88.0 57.8,89.6 58.1,91.2 58.4,92.8 58.7,94.4 59.1,96.0 59.6,97.6 60.0,99.2 60.4,100.8 60.8,102.4 61.3,104.0 61.7,105.6 62.2,107.2 62.6,108.8 62.9,110.4 63.2,112.0 63.5,113.7 63.9,115.2 64.3,116.8 64.5,118.4 64.7,120.1 64.8,121.7 65.1,123.4 65.3,125.0 65.6,126.6 65.9,128.3 66.2,129.9 66.5,131.5 66.7,133.2 66.9,134.8 67.1,136.4 67.2,138.1 67.3,139.7 67.3,141.4 67.4,143.1 67.4,144.7 67.5,146.4 67.6,148.0 67.6,149.7 67.7,151.3 67.7,153.0 67.8,154.6 67.8,156.3 67.8,157.9 67.7,159.6 67.7,161.3 67.7,162.9 67.7,164.6 67.5,166.2 67.2,167.9 67.0,169.5 66.9,171.1 66.7,172.8 66.5,174.4 66.3,176.1 66.1,177.7 66.0,179.4 65.8,181.0 65.7,182.7 65.5,184.3 65.4,186.0 65.3,187.6 65.1,189.3 65.0,190.9 64.9,192.6 64.8,194.2 64.6,195.9 64.5,197.5 64.4,199.2 64.3,200.8 64.3,202.5 64.2,204.1 64.2,205.8 64.1,207.4 64.1,209.1 64.0,210.8 63.9,212.4 63.8,214.1 63.7,215.7 63.6,217.4 63.4,219.0 63.2,220.7 63.0,222.3 62.8,223.9 62.4,225.6 62.1,227.2 61.8,228.8 61.5,230.4 61.3,232.1 61.1,233.7 60.9,235.4 60.7,237.0 60.7,240.0 90.0,240.0 90.0,40.0 44.6,40.0" fill="#ffa000"/><polygon points="36.0,44.0 46.0,43.5 47.5,47.0 47.2,52.0 47.5,57.0 45.5,61.0 41.0,59.0 37.0,52.0" fill="#40e0e8"/><polygon points="44.5,47.0 46.5,47.5 46.6,55.0 45.5,58.0 44.0,55.0" fill="#a0ff70"/><polygon points="48.0,43.9 47.7,45.5 47.5,47.1 47.4,48.7 47.4,50.4 47.4,52.0 47.5,53.7 47.6,55.3 47.9,56.9 48.2,58.6 48.5,60.2 49.2,61.7 50.0,63.2 50.7,64.7 51.5,66.1 52.5,67.4 53.5,68.7 54.2,70.2 54.8,71.7 55.4,73.2 55.8,74.8 56.3,76.4 56.7,78.0 57.2,79.6 57.6,81.2 58.1,82.8 58.5,84.4 59.0,86.0 59.4,87.6 59.6,89.2 59.8,90.9 60.1,92.5 60.3,94.1 60.6,95.8 61.0,97.4 61.4,99.0 61.7,100.6 62.1,102.2 62.6,103.8 63.0,105.4 63.5,107.0 63.9,108.6 64.1,110.2 64.4,111.9 64.6,113.5 64.9,115.1 65.1,116.7 65.3,118.4 65.3,120.0 65.4,121.7 65.7,123.3 65.9,124.9 66.1,126.6 66.4,128.2 66.8,129.8 67.0,131.5 67.3,133.1 67.5,134.8 67.7,136.4 67.8,138.0 67.9,139.7 67.9,141.4 67.9,143.0 68.0,144.7 68.0,146.3 68.1,148.0 68.1,149.6 68.2,151.3 68.2,153.0 68.3,154.6 68.3,156.3 68.2,157.9 68.2,159.6 68.1,161.2 68.1,162.9 68.0,164.5 67.8,166.2 67.6,167.8 67.4,169.5 67.2,171.1 67.0,172.8 66.9,174.4 66.7,176.1 66.5,177.7 66.3,179.4 66.1,181.0 66.0,182.7 65.8,184.3 65.6,186.0 65.5,187.6 65.4,189.3 65.3,190.9 65.2,192.6 65.1,194.2 65.0,195.9 64.9,197.5 64.8,199.2 64.7,200.8 64.6,202.5 64.6,204.1 64.5,205.8 64.5,207.5 64.4,209.1 64.3,210.8 64.2,212.4 64.1,214.1 64.0,215.7 63.9,217.4 63.7,219.0 63.6,220.7 63.4,222.3 63.1,224.0 62.8,225.6 62.4,227.2 62.0,228.8 61.8,230.4 61.5,232.1 61.3,233.7 61.1,235.4 60.8,237.0 60.8,240.0 90.0,240.0 90.0,39.9 45.0,39.9" fill="#ff3000"/><polygon points="-2.0,3.5 -1.4,3.6 -0.8,3.6 -0.3,3.7 0.3,3.8 0.8,4.0 1.3,4.2 1.8,4.4 2.3,4.6 2.8,4.9 3.1,5.3 3.4,5.8 3.7,6.3 3.9,6.8 4.2,7.4 4.4,7.9 4.9,8.2 5.4,8.5 5.8,8.8 6.3,9.1 6.8,9.4 7.3,9.7 7.5,10.2 7.8,10.7 8.0,11.2 8.3,11.7 8.5,12.3 8.8,12.8 9.2,13.1 9.7,13.5 10.1,13.8 10.6,14.2 11.1,14.5 11.5,14.9 12.0,15.2 12.5,15.6 12.9,15.9 13.3,16.4 13.7,16.8 14.1,17.2 14.5,17.7 14.9,18.1 15.3,18.5 15.7,18.9 16.1,19.4 16.5,19.8 17.0,20.1 17.4,20.5 17.9,20.8 18.4,21.1 18.9,21.3 19.5,21.6 20.0,21.8 20.5,22.1 21.0,22.3 21.5,22.6 22.1,22.8 22.6,22.9 23.1,23.1 23.6,23.2 24.1,23.4 24.6,23.5 25.2,23.6 25.7,23.7 26.3,23.8 26.8,23.8 27.3,23.8 27.8,23.9 28.4,23.9 28.9,23.8 29.5,23.8 30.0,23.8 30.6,23.9 31.2,24.1 31.7,24.2 32.3,24.4 32.8,24.6 33.4,24.8 33.9,25.0 34.3,25.4 34.7,25.8 35.1,26.2 35.5,26.7 35.8,27.1 36.2,27.6 36.5,28.1 36.9,28.5 37.4,28.9 37.8,29.3 38.2,29.7 38.6,30.1 39.1,30.5 39.5,30.9 40.0,31.2 40.4,31.6 40.8,32.0 41.3,32.4 41.7,32.8 42.2,33.1 42.6,33.5 42.9,34.0 43.2,34.5 43.5,35.0 43.8,35.5 44.1,36.0 44.4,36.5 44.7,37.0 45.0,37.5 45.3,38.1 45.5,38.6 45.7,39.1 45.9,39.7 46.1,40.2 46.3,40.8 46.6,41.3 46.8,41.9 47.0,42.4 47.2,42.9 47.4,43.5 47.6,44.0 90.0,44.0 90.0,-5.0 -5.0,-5.0 -5.0,3.5" fill="#b8ff58"/><polygon points="44.0,205.0 48.0,203.0 50.0,207.0 49.0,212.0 46.0,214.0 43.5,210.0" fill="#48e8d8"/><polygon points="55.5,189.0 57.5,190.0 57.5,197.0 55.8,196.0" fill="#ff6000"/><polygon points="38.5,30.5 41.5,31.1 44.8,33.2 48.8,35.4 53.8,37.5 58.7,39.2 63.6,40.6 68.5,42.3 73.4,43.6 78.4,45.1 80.3,46.0 84.0,46.5 84.0,52.6 80.3,53.5 76.7,53.3 71.4,52.6 68.7,52.5 66.0,51.6 63.4,50.2 60.7,48.9 58.0,48.4 54.0,46.6 51.4,44.5 48.9,43.4 46.5,43.5" fill="#c0ff50"/><polygon points="38.5,31.9 41.5,32.5 44.8,34.6 48.8,36.8 53.8,38.9 58.7,40.6 63.6,42.0 68.5,43.7 73.4,45.0 78.4,46.5 80.3,47.4 84.0,47.9 84.0,51.2 80.3,52.1 76.7,51.9 71.4,51.2 68.7,51.1 66.0,50.2 63.4,48.8 60.7,47.5 58.0,47.0 54.0,45.2 51.4,43.1 48.9,42.0 46.5,42.1" fill="#40e8e0"/><polygon points="38.5,32.9 41.5,33.5 44.8,35.6 48.8,37.8 53.8,39.9 58.7,41.6 63.6,43.0 68.5,44.7 73.4,46.0 78.4,47.5 80.3,48.4 84.0,48.9 84.0,50.2 80.3,51.1 76.7,50.9 71.4,50.2 68.7,50.1 66.0,49.2 63.4,47.8 60.7,46.5 58.0,46.0 54.0,44.2 51.4,42.1 48.9,41.0 46.5,41.1" fill="#30b0f0"/><polyline points="41.0,34.5 42.0,35.2 43.0,35.8 44.0,36.4 45.0,37.0 46.0,37.6 47.0,38.1 48.0,38.7 49.1,39.3 50.1,39.8 51.1,40.3 52.2,40.9 53.2,41.5 54.2,42.1 55.2,42.5 56.3,43.0 57.4,43.4 58.5,43.8 59.6,44.1 60.7,44.4 61.8,44.7 62.9,45.2 64.0,45.6 65.1,46.1 66.1,46.5 67.2,46.9 68.4,47.3 69.5,47.6 70.6,47.8 71.8,47.9 72.9,48.2 74.1,48.4 75.2,48.6 76.3,48.9 77.5,49.1 78.6,49.3 79.7,49.6 80.9,49.8 82.0,49.8 83.0,49.5" fill="none" stroke="#5060d0" stroke-width="1.0" stroke-linejoin="round"/><polygon points="16.0,34.5 25.0,35.5 32.0,35.5 38.0,36.5 43.0,38.0 46.0,41.0 47.0,46.0 46.5,52.0 45.0,57.0 41.0,61.0 36.0,60.0 30.0,55.0 22.0,47.0 16.0,43.0" fill="#40e0e8"/><polygon points="17.0,36.5 25.0,37.5 32.0,37.3 38.0,38.5 42.5,39.8 45.0,43.0 45.8,48.0 44.5,55.0 41.5,59.5 37.0,60.0 30.0,54.0 22.0,46.5 17.0,42.5" fill="#30b0f0"/><polyline points="29.0,39.3 36.0,39.1 42.0,39.9 47.0,41.3" fill="none" stroke="#4a5cd0" stroke-width="1.4" stroke-linejoin="round"/><polyline points="38.0,40.0 40.5,41.5 40.5,46.0 38.0,51.0 35.0,56.0 32.5,60.0" fill="none" stroke="#1020b0" stroke-width="2.4" stroke-linejoin="round"/><polyline points="38.0,40.0 40.5,41.5 40.5,46.0 38.0,51.0 35.0,56.0 32.5,60.0" fill="none" stroke="#b8b8d0" stroke-width="0.7" stroke-linejoin="round"/><polygon points="49.0,-3.0 51.6,1.4 57.2,4.6 62.9,8.3 68.5,11.4 74.1,14.0 78.5,17.1 81.0,19.6 84.0,21.0 84.0,-3.0" fill="#c0ff50"/><polygon points="49.0,-3.0 52.1,0.4 57.8,3.6 63.4,7.3 69.0,10.4 74.6,13.0 79.0,16.1 81.5,18.6 84.5,20.0 84.0,-3.0" fill="#40e0e8"/><polygon points="49.0,-3.0 52.4,-0.2 58.0,3.0 63.7,6.7 69.3,9.8 74.9,12.4 79.3,15.5 81.8,18.0 84.8,19.4 84.0,-3.0" fill="#30a8f0"/><polygon points="49.0,-3.0 52.8,-0.9 58.5,2.2 64.1,5.9 69.7,9.0 75.3,11.6 79.7,14.7 82.2,17.2 85.2,18.6 84.0,-3.0" fill="#0008a8"/><polygon points="59.8,-3.0 59.8,0.2 66.0,1.4 72.2,4.6 78.5,7.7 84.0,10.5 84.0,-3.0" fill="#50e0e0"/><polyline points="0.5,25.2 5.0,29.0 8.5,32.5 12.7,39.5 17.5,45.0 22.0,50.0 25.0,54.5 30.8,57.8 35.4,63.5 38.0,70.0 40.1,76.0 44.0,82.0 44.8,85.3 42.5,90.0 41.9,95.9 44.0,103.0 46.9,109.7 50.5,114.5 51.5,118.0 52.5,121.8 54.5,125.0 50.9,127.1 48.3,132.5 48.6,136.0 49.6,140.5 53.6,149.9 56.0,156.0 57.0,160.0 57.5,166.0 56.5,172.0 54.5,178.0 52.0,183.0 49.5,188.0 47.3,193.0 46.5,199.7 42.5,204.7 41.4,212.5 43.8,217.2 48.5,217.2 50.5,221.0 49.3,226.0 51.0,234.7" fill="none" stroke="#c8c8d0" stroke-width="0.8" stroke-linejoin="round"/><polyline points="41.0,34.5 42.0,35.2 43.0,35.8 44.0,36.4 45.0,37.0 46.0,37.6 47.0,38.1 48.0,38.7 49.1,39.3 50.1,39.8 51.1,40.3 52.2,40.9 53.2,41.5 54.2,42.1 55.2,42.5 56.3,43.0 57.4,43.4 58.5,43.8 59.6,44.1 60.7,44.4 61.8,44.7 62.9,45.2 64.0,45.6 65.1,46.1 66.1,46.5 67.2,46.9 68.4,47.3 69.5,47.6 70.6,47.8 71.8,47.9 72.9,48.2 74.1,48.4 75.2,48.6 76.3,48.9 77.5,49.1 78.6,49.3 79.7,49.6 80.9,49.8 82.0,49.8 83.0,49.5" fill="none" stroke="#b8b8d0" stroke-width="0.7" stroke-linejoin="round"/><polygon points="51.0,-2.0 51.6,1.4 57.2,4.6 62.9,8.3 68.5,11.4 74.1,14.0 78.5,17.1 81.0,19.6 82.0,20.0 82.0,45.5 80.3,46.0 78.4,45.1 73.4,43.6 68.5,42.3 63.6,40.6 58.7,39.2 53.8,37.5 48.8,35.4 44.8,33.2 41.5,31.1 39.4,29.7 37.5,26.2 36.0,23.5 33.5,21.5 30.5,20.2 27.5,20.0 24.5,18.2 21.5,15.8 18.5,13.5 15.5,11.0 12.5,8.5 10.2,6.0 8.8,3.0 8.2,-2.0" fill="#fff"/><polygon points="82.0,53.6 80.3,53.5 76.7,53.3 71.4,52.6 68.7,52.5 66.0,51.6 63.4,50.2 60.7,48.9 58.0,48.4 54.0,46.6 51.4,44.5 48.9,43.4 48.0,46.4 48.4,53.1 49.4,59.8 52.1,65.2 55.4,69.2 57.1,73.1 59.1,79.8 61.1,86.5 61.8,94.5 63.1,96.5 63.8,102.6 65.1,106.6 66.5,115.9 66.0,121.4 66.5,126.0 67.5,131.0 68.4,137.6 68.5,145.0 68.8,155.4 68.7,160.0 68.3,164.6 67.8,168.3 67.2,174.7 66.6,178.8 65.9,186.0 65.1,200.3 64.4,214.6 63.7,223.1 62.3,228.8 60.9,236.0 82.0,236.0" fill="#fff"/><polygon points="3.8,-2.0 5.3,-2.0 5.3,1.6 4.6,2.6 3.9,1.8" fill="#fff"/><polyline points="69.7,13.8 71.5,15.5 73.7,17.8 75.2,21.0 76.4,24.5 77.5,28.0 78.4,31.2 79.4,34.5 80.2,38.0 80.6,42.0" fill="none" stroke="#b8ff50" stroke-width="2.2" stroke-linejoin="round"/><polyline points="4.0,0.4 6.0,1.5 8.0,3.1" fill="none" stroke="#d8ff40" stroke-width="1.7" stroke-linejoin="round"/><polyline points="9.4,3.1 12.1,5.7 13.4,11.1 17.4,15.1" fill="none" stroke="#d8ff40" stroke-width="1.7" stroke-linejoin="round"/><polyline points="12.1,1.7 16.1,4.4 18.8,9.8 21.4,13.8" fill="none" stroke="#d8ff40" stroke-width="1.7" stroke-linejoin="round"/><polyline points="18.8,4.4 22.8,8.4 24.1,12.4" fill="none" stroke="#d8ff40" stroke-width="1.7" stroke-linejoin="round"/><polyline points="15.0,8.0 17.0,12.0" fill="none" stroke="#d8ff40" stroke-width="1.7" stroke-linejoin="round"/><polyline points="26.8,17.8 30.8,15.1 34.8,16.5 36.2,20.5" fill="none" stroke="#d8ff40" stroke-width="1.7" stroke-linejoin="round"/><polyline points="36.2,20.5 40.2,16.5 44.2,12.4 46.2,9.8" fill="none" stroke="#d8ff40" stroke-width="1.7" stroke-linejoin="round"/><polyline points="30.8,21.8 34.8,23.1 38.9,21.8" fill="none" stroke="#d8ff40" stroke-width="1.7" stroke-linejoin="round"/><polyline points="24.0,17.0 26.0,14.5 28.0,15.5" fill="none" stroke="#d8ff40" stroke-width="1.7" stroke-linejoin="round"/><polygon points="62.5,96.2 66.0,96.0 70.0,97.2 73.2,98.2 70.0,99.6 66.0,99.8 63.0,99.5" fill="#e02000"/><polygon points="64.5,106.0 68.0,107.5 71.0,110.0 70.0,114.0 71.5,118.0 69.0,120.0 66.5,118.0 65.2,112.0" fill="#e02000"/><polygon points="66.0,124.0 70.0,124.6 75.0,125.5 79.9,126.5 79.9,128.6 75.0,128.4 70.0,129.2 66.2,129.4" fill="#e02000"/>
</g>
<rect x="0" y="0" width="80.6" height="234.1" fill="none" stroke="#b4b4b4" stroke-width="0.8"/>
<path d="M13.5 0v-2.6M13.5 234.1v2.6M40.3 0v-2.6M40.3 234.1v2.6M67.1 0v-2.6M67.1 234.1v2.6M0 20.0h-2.6M80.6 20.0h2.6M0 59.0h-2.6M80.6 59.0h2.6M0 98.0h-2.6M80.6 98.0h2.6M0 137.0h-2.6M80.6 137.0h2.6M0 176.0h-2.6M80.6 176.0h2.6M0 215.0h-2.6M80.6 215.0h2.6" stroke="#a0a0a0" stroke-width="0.8" fill="none"/>
<text x="-7.6" y="24.3" font-size="12.3" text-anchor="end" fill="#262626">49</text>
<text x="-7.6" y="63.3" font-size="12.3" text-anchor="end" fill="#262626">48</text>
<text x="-7.6" y="102.3" font-size="12.3" text-anchor="end" fill="#262626">47</text>
<text x="-7.6" y="141.3" font-size="12.3" text-anchor="end" fill="#262626">46</text>
<text x="-7.6" y="180.3" font-size="12.3" text-anchor="end" fill="#262626">45</text>
<text x="-7.6" y="219.3" font-size="12.3" text-anchor="end" fill="#262626">44</text>
<text x="13.5" y="252.5" font-size="12.3" text-anchor="middle" fill="#262626">-126</text>
<text x="67.1" y="252.5" font-size="12.3" text-anchor="middle" fill="#262626">-124</text>
<text x="39.8" y="266.3" font-size="10.5" text-anchor="middle" fill="#262626">Longitude (deg E)</text>
<text transform="translate(-28.2,117.5) rotate(-90)" font-size="10.5" text-anchor="middle" fill="#262626">Latitude (deg N )</text>
<rect x="94.4" y="0.4" width="12.3" height="233.7" fill="url(#jetN)"/>
<path d="M106.7 234.1h2" stroke="#a0a0a0" stroke-width="0.8"/>
<text x="112.80000000000001" y="238.5" font-size="12" fill="#262626">6</text>
<path d="M106.7 117.35h2" stroke="#a0a0a0" stroke-width="0.8"/>
<text x="112.80000000000001" y="121.75" font-size="12" fill="#262626">9</text>
<path d="M106.7 0.5999999999999943h2" stroke="#a0a0a0" stroke-width="0.8"/>
<text x="112.80000000000001" y="4.999999999999995" font-size="12" fill="#262626">12</text>
</g>
<text x="291.0" y="35.6" font-size="14.05" font-weight="bold" fill="#000">Bottom Temperature</text>
<g transform="translate(584.5,40.3)">
<g clip-path="url(#mapclip)">
<rect x="-2" y="-2" width="84.6" height="238.1" fill="#ff8c00"/><polygon points="-2.0,65.0 0.2,66.1 4.2,74.2 8.2,82.2 12.2,90.2 16.2,98.3 18.9,104.7 21.0,112.0 22.0,120.0 23.5,135.0 25.5,152.0 27.5,165.0 29.3,180.0 30.2,195.0 31.5,210.0 32.9,237.0 32.9,240.0 90.0,240.0 90.0,-5.0 -5.0,-5.0 -5.0,65.0" fill="#ff6000"/><polygon points="1.5,61.0 3.7,62.1 7.7,70.2 11.7,78.2 15.7,86.2 19.7,94.3 22.4,100.7 24.5,108.0 25.5,116.0 27.0,131.0 29.0,148.0 31.0,161.0 32.8,176.0 33.7,191.0 35.0,206.0 36.4,233.0 36.4,240.0 90.0,240.0 90.0,-5.0 -5.0,-5.0 -5.0,61.0" fill="#ff2c00"/><polygon points="-2.0,42.8 1.1,43.1 7.3,47.8 13.6,54.1 19.8,61.9 25.5,66.0 29.0,70.0 31.5,77.5 33.4,85.3 34.5,100.3 37.0,116.0 40.1,125.3 41.7,139.4 43.2,154.7 44.2,163.3 44.0,170.0 41.0,178.0 39.8,181.0 39.0,200.0 38.8,213.0 39.5,237.0 39.5,240.0 90.0,240.0 90.0,-5.0 -5.0,-5.0 -5.0,42.8" fill="#c41814"/><polygon points="-2.0,24.2 0.5,25.2 5.0,29.0 8.5,32.5 12.7,39.5 17.5,45.0 22.0,50.0 25.0,54.5 30.8,57.8 35.4,63.5 38.0,70.0 40.1,76.0 44.0,82.0 44.8,85.3 42.5,90.0 41.9,95.9 44.0,103.0 46.9,109.7 50.5,114.5 51.5,118.0 52.5,121.8 54.5,125.0 50.9,127.1 48.3,132.5 48.6,136.0 49.6,140.5 53.6,149.9 56.0,156.0 57.0,160.0 57.5,166.0 56.5,172.0 54.5,178.0 52.0,183.0 49.5,188.0 47.3,193.0 46.5,199.7 42.5,204.7 41.4,212.5 43.8,217.2 48.5,217.2 50.5,221.0 49.3,226.0 51.0,234.7 51.5,237.0 51.5,240.0 90.0,240.0 90.0,-5.0 -5.0,-5.0 -5.0,24.2" fill="#ff2c00"/><polygon points="-2.0,18.4 0.0,19.3 1.7,20.8 3.3,22.3 4.6,24.1 5.8,26.0 7.0,27.8 8.2,29.7 9.5,31.5 11.0,33.1 12.4,34.8 13.9,36.5 15.3,38.1 16.8,39.7 18.3,41.3 19.9,42.7 21.5,44.1 23.2,45.4 24.8,46.7 26.4,48.2 28.0,49.7 29.4,51.3 30.8,53.0 32.6,54.4 34.4,55.6 36.3,56.9 37.6,58.5 38.5,60.6 39.1,62.7 39.5,64.8 39.9,67.0 41.0,68.9 42.0,70.8 43.2,72.5 44.5,74.2 45.9,75.8 47.3,77.5 48.0,79.5 48.7,81.6 47.8,83.6 46.6,85.2 45.1,86.7 43.9,88.4 43.1,90.4 42.3,92.4 42.7,94.6 43.1,96.8 43.7,98.9 44.5,100.9 45.3,103.0 46.5,104.9 47.7,106.7 48.8,108.6 49.8,110.6 50.8,112.6 51.8,114.5 52.4,116.7 52.9,118.8 52.4,120.9 52.4,123.0 53.3,125.0 53.3,127.0 52.3,129.0 51.4,130.9 50.4,132.8 49.7,134.8 49.3,136.9 49.3,139.1 50.0,141.2 51.0,143.2 52.0,145.0 54.0,144.7 55.9,144.5 56.4,145.6 55.7,147.7 55.9,149.8 56.4,152.0 56.9,154.1 57.8,156.1 58.8,158.1 59.4,160.2 59.6,162.4 59.8,164.6 60.1,166.8 60.2,169.0 60.1,171.1 59.3,173.2 58.4,175.2 57.4,177.2 56.1,178.9 54.7,180.6 53.8,182.5 53.4,184.7 53.1,186.9 52.8,189.1 52.5,191.3 51.7,193.3 50.6,195.2 49.4,197.0 48.4,199.0 47.3,200.9 46.1,202.7 45.0,204.6 44.6,206.6 44.9,208.8 44.9,211.0 45.0,213.2 45.0,215.4 46.9,216.3 48.8,217.2 50.6,218.1 51.8,219.9 51.5,221.9 50.8,224.0 51.0,226.1 51.6,228.3 52.0,230.4 52.3,232.6 52.6,234.8 52.9,237.0 52.9,240.0 90.0,240.0 90.0,-5.0 -5.0,-5.0 -5.0,18.4" fill="#ff8c00"/><polygon points="-2.0,14.8 0.1,15.5 1.7,17.0 3.3,18.5 4.6,20.3 5.9,22.1 7.2,23.9 8.5,25.6 9.9,27.4 11.4,29.0 12.9,30.6 14.4,32.2 15.9,33.9 17.6,35.0 19.4,36.2 21.2,36.9 23.0,37.6 24.8,38.0 26.6,38.5 28.4,39.6 30.1,40.9 31.7,42.4 33.2,44.1 34.9,45.4 36.7,46.7 38.5,48.0 39.9,49.7 40.9,51.6 41.6,53.7 42.0,55.9 42.5,58.1 42.9,60.0 43.3,62.0 43.7,63.9 44.4,65.7 45.1,67.6 45.9,69.4 46.6,71.5 47.3,73.6 47.1,75.6 46.7,77.4 46.1,79.1 45.7,80.9 45.4,83.0 45.1,85.1 45.5,87.2 45.9,89.4 46.4,91.6 47.1,93.7 47.8,95.8 48.7,97.7 49.7,99.7 50.7,101.6 51.6,103.7 52.5,105.7 53.3,107.7 54.0,109.8 54.5,112.0 54.5,114.1 54.8,116.2 55.5,118.3 55.7,120.3 55.4,122.3 55.0,124.3 54.8,126.3 54.7,128.3 54.6,130.4 54.8,132.6 55.4,134.7 56.2,136.8 57.0,138.7 58.4,139.4 59.6,140.1 59.9,141.7 59.6,143.8 59.7,146.0 60.1,148.2 60.5,150.3 61.1,152.4 61.7,154.5 62.1,156.6 62.3,158.8 62.5,161.0 62.7,163.2 62.8,165.4 62.7,167.6 62.2,169.7 61.6,171.8 60.9,173.8 59.9,175.8 59.0,177.7 58.3,179.7 58.1,181.9 57.8,184.1 57.6,186.3 57.3,188.5 56.8,190.6 56.0,192.6 55.2,194.6 54.5,196.6 53.7,198.6 52.9,200.6 52.2,202.6 51.9,204.7 52.1,206.9 52.1,209.1 52.1,211.3 52.1,213.6 53.2,214.9 54.3,216.3 55.3,217.8 56.0,219.7 55.7,221.8 55.1,223.9 55.1,226.1 55.3,228.2 55.5,230.4 55.6,232.6 55.7,234.8 55.8,237.0 55.8,240.0 90.0,240.0 90.0,-5.0 -5.0,-5.0 -5.0,14.8" fill="#f0f000"/><polygon points="-2.0,12.8 0.1,13.4 1.7,14.9 3.2,16.5 4.6,18.2 6.0,20.0 7.3,21.7 8.7,23.5 10.1,25.1 11.6,26.7 13.2,28.3 14.7,29.9 16.2,31.6 18.1,32.5 20.0,33.4 21.9,33.8 23.9,34.1 25.7,34.0 27.5,34.0 29.5,35.0 31.3,36.2 33.0,37.6 34.5,39.2 36.2,40.6 38.0,41.9 39.7,43.2 41.1,44.9 42.2,46.8 42.9,48.9 43.4,51.0 43.9,53.2 44.0,55.2 44.0,57.2 44.0,59.2 44.4,61.1 44.7,63.1 45.2,65.1 45.9,67.2 46.6,69.3 46.7,71.3 46.7,73.2 46.7,75.0 46.7,76.9 46.7,79.0 46.6,81.1 47.0,83.3 47.4,85.4 47.9,87.6 48.4,89.7 49.1,91.8 50.0,93.8 50.8,95.9 51.7,97.9 52.5,99.9 53.3,102.0 54.2,104.0 54.8,106.1 55.4,108.3 55.7,110.4 56.0,112.5 56.7,114.6 57.1,116.7 57.0,118.7 57.0,120.7 57.2,122.7 57.4,124.8 57.5,126.9 57.8,129.1 58.4,131.2 59.0,133.3 59.7,135.3 60.7,136.5 61.6,137.8 61.9,139.5 61.7,141.7 61.8,143.9 62.1,146.1 62.4,148.3 62.9,150.4 63.3,152.5 63.6,154.7 63.7,156.9 63.9,159.1 64.1,161.3 64.1,163.5 64.1,165.7 63.8,167.8 63.4,170.0 62.8,172.1 62.1,174.1 61.3,176.1 60.8,178.2 60.6,180.4 60.4,182.6 60.2,184.8 59.9,187.0 59.5,189.1 58.9,191.2 58.3,193.2 57.8,195.3 57.2,197.4 56.6,199.5 56.1,201.5 55.9,203.7 56.0,205.9 56.0,208.1 56.0,210.3 56.0,212.5 56.6,214.2 57.3,215.9 57.9,217.6 58.3,219.6 58.0,221.7 57.5,223.9 57.4,226.0 57.4,228.2 57.4,230.4 57.4,232.6 57.4,234.8 57.4,237.0 57.4,240.0 90.0,240.0 90.0,-5.0 -5.0,-5.0 -5.0,12.8" fill="#80ff80"/><polygon points="-2.0,11.7 0.1,12.3 1.7,13.8 3.2,15.4 4.6,17.1 6.0,18.8 7.4,20.6 8.7,22.3 10.2,24.0 11.8,25.6 13.3,27.1 14.8,28.7 16.4,30.3 18.3,31.2 20.3,31.9 22.3,32.1 24.3,32.2 26.2,31.9 28.1,31.6 30.0,32.6 31.9,33.7 33.6,35.0 35.2,36.6 36.8,38.0 38.6,39.4 40.4,40.7 41.7,42.4 42.9,44.3 43.6,46.3 44.1,48.5 44.7,50.6 44.6,52.7 44.3,54.7 44.2,56.7 44.4,58.7 44.5,60.7 44.8,62.8 45.5,64.9 46.2,67.0 46.5,69.0 46.7,70.9 47.0,72.8 47.2,74.7 47.3,76.8 47.4,79.0 47.8,81.2 48.2,83.3 48.6,85.5 49.2,87.6 49.8,89.8 50.6,91.8 51.4,93.8 52.2,95.9 53.0,97.9 53.8,100.0 54.6,102.1 55.3,104.2 55.9,106.3 56.2,108.4 56.7,110.5 57.4,112.6 57.8,114.7 57.9,116.8 58.1,118.9 58.4,120.9 58.8,122.9 59.0,125.1 59.4,127.2 59.9,129.4 60.5,131.5 61.1,133.5 62.0,135.0 62.6,136.5 62.9,138.4 62.8,140.6 63.0,142.8 63.2,145.0 63.4,147.2 63.8,149.3 64.2,151.5 64.4,153.6 64.5,155.8 64.6,158.1 64.8,160.3 64.9,162.5 64.9,164.7 64.7,166.8 64.3,169.0 63.8,171.1 63.2,173.2 62.6,175.2 62.1,177.3 61.9,179.6 61.7,181.8 61.6,184.0 61.3,186.2 61.0,188.3 60.5,190.4 60.0,192.5 59.5,194.7 59.1,196.8 58.6,198.9 58.1,201.0 58.0,203.1 58.0,205.3 58.1,207.6 58.1,209.8 58.0,212.0 58.5,213.8 58.9,215.6 59.3,217.5 59.5,219.6 59.1,221.7 58.7,223.9 58.5,226.0 58.4,228.2 58.4,230.4 58.3,232.6 58.3,234.8 58.3,237.0 58.3,240.0 90.0,240.0 90.0,-5.0 -5.0,-5.0 -5.0,11.7" fill="#30e0f0"/><polygon points="-2.0,10.4 0.2,10.8 1.7,12.4 3.2,14.0 4.7,15.7 6.1,17.4 7.4,19.1 8.8,20.8 10.4,22.4 11.9,24.0 13.5,25.6 15.0,27.2 16.6,28.8 18.6,29.4 20.7,30.0 22.8,30.0 24.8,29.8 26.8,29.2 28.7,28.6 30.8,29.4 32.7,30.4 34.5,31.7 36.0,33.3 37.7,34.7 39.5,36.0 41.2,37.4 42.6,39.1 43.8,40.9 44.5,43.0 45.1,45.2 45.6,47.3 45.3,49.4 44.8,51.4 44.4,53.5 44.3,55.6 44.2,57.7 44.3,59.8 45.0,61.9 45.7,64.0 46.2,66.1 46.8,68.0 47.3,70.0 47.9,72.0 48.2,74.1 48.4,76.3 48.8,78.4 49.2,80.6 49.6,82.8 50.1,84.9 50.7,87.1 51.4,89.1 52.2,91.2 52.9,93.3 53.7,95.4 54.4,97.5 55.2,99.5 55.8,101.7 56.5,103.8 57.0,105.9 57.6,108.0 58.2,110.1 58.7,112.2 59.0,114.3 59.4,116.4 60.0,118.4 60.7,120.5 61.0,122.6 61.4,124.8 62.0,127.0 62.4,129.1 63.0,131.2 63.6,133.1 64.0,134.9 64.2,137.0 64.3,139.2 64.4,141.4 64.6,143.6 64.8,145.8 65.0,147.9 65.2,150.1 65.4,152.3 65.5,154.5 65.6,156.7 65.7,158.9 65.8,161.2 65.8,163.4 65.8,165.6 65.5,167.7 65.1,169.9 64.6,172.0 64.2,174.1 63.8,176.3 63.6,178.5 63.5,180.7 63.4,182.9 63.1,185.1 62.8,187.3 62.5,189.5 62.1,191.6 61.8,193.8 61.4,195.9 61.1,198.1 60.8,200.3 60.7,202.4 60.7,204.6 60.7,206.9 60.7,209.1 60.7,211.3 60.8,213.3 60.9,215.3 61.1,217.4 61.0,219.5 60.7,221.7 60.3,223.8 60.0,226.0 59.8,228.2 59.7,230.4 59.6,232.6 59.5,234.8 59.4,237.0 59.4,240.0 90.0,240.0 90.0,-5.0 -5.0,-5.0 -5.0,10.4" fill="#2090f0"/><polygon points="-2.0,9.0 0.3,9.4 4.4,13.9 8.8,19.2 13.3,23.7 16.9,27.3 21.3,28.2 25.8,27.3 29.4,25.5 32.0,26.4 35.0,28.0 38.0,31.0 42.0,34.0 45.0,38.0 46.7,44.4 44.7,49.7 43.7,56.4 45.4,61.8 47.4,66.5 48.8,69.7 49.6,74.4 51.1,82.5 53.1,89.2 55.8,97.2 58.4,105.2 60.5,113.3 62.5,118.0 63.9,124.2 65.2,131.0 65.7,137.6 66.3,148.0 66.6,155.4 66.9,164.6 65.5,175.0 65.1,182.5 64.0,193.2 63.4,200.2 63.4,209.1 62.8,218.0 61.0,229.6 60.5,237.0 60.5,240.0 90.0,240.0 90.0,-5.0 -5.0,-5.0 -5.0,9.0" fill="#0000c0"/><polygon points="18.0,35.0 25.0,36.5 32.0,37.5 38.0,38.5 41.0,41.0 42.0,46.0 40.0,50.0 35.0,52.0 30.0,50.0 25.0,47.5 20.0,45.5 17.0,43.5" fill="#ff6000"/><polygon points="20.0,33.0 26.0,33.5 30.0,36.0 25.0,38.0 20.0,37.0" fill="#f0e000"/><polygon points="28.0,44.0 33.0,44.0 36.0,47.0 33.0,51.0 29.0,50.0" fill="#ff2000"/><polygon points="38.5,30.5 41.5,31.1 44.8,33.2 48.8,35.4 53.8,37.5 58.7,39.2 63.6,40.6 68.5,42.3 73.4,43.6 78.4,45.1 80.3,46.0 84.0,46.5 84.0,52.6 80.3,53.5 76.7,53.3 71.4,52.6 68.7,52.5 66.0,51.6 63.4,50.2 60.7,48.9 58.0,48.4 54.0,46.6 51.4,44.5 48.9,43.4 46.5,43.5" fill="#0000c0"/><polygon points="38.5,31.8 41.5,32.4 44.8,34.5 48.8,36.7 53.8,38.8 58.7,40.5 63.6,41.9 68.5,43.6 73.4,44.9 78.4,46.4 80.3,47.3 84.0,47.8 84.0,51.3 80.3,52.2 76.7,52.0 71.4,51.3 68.7,51.2 66.0,50.3 63.4,48.9 60.7,47.6 58.0,47.1 54.0,45.3 51.4,43.2 48.9,42.1 46.5,42.2" fill="#40e0d0"/><polygon points="38.5,32.5 41.5,33.1 44.8,35.2 48.8,37.4 53.8,39.5 58.7,41.2 63.6,42.6 68.5,44.3 73.4,45.6 78.4,47.1 80.3,48.0 84.0,48.5 84.0,50.6 80.3,51.5 76.7,51.3 71.4,50.6 68.7,50.5 66.0,49.6 63.4,48.2 60.7,46.9 58.0,46.4 54.0,44.6 51.4,42.5 48.9,41.4 46.5,41.5" fill="#ff6000"/><polygon points="38.5,33.3 41.5,33.9 44.8,36.0 48.8,38.2 53.8,40.3 58.7,42.0 63.6,43.4 68.5,45.1 73.4,46.4 78.4,47.9 80.3,48.8 84.0,49.3 84.0,49.8 80.3,50.7 76.7,50.5 71.4,49.8 68.7,49.7 66.0,48.8 63.4,47.4 60.7,46.1 58.0,45.6 54.0,43.8 51.4,41.7 48.9,40.6 46.5,40.7" fill="#ff2400"/><polygon points="29.0,37.5 36.0,37.0 41.0,37.2 45.0,38.5 48.5,41.0 47.5,43.8 42.0,43.0 36.0,42.5 29.0,41.5" fill="#ff3000"/><polygon points="35.0,42.0 41.0,42.5 43.5,45.5 43.0,50.0 41.5,55.0 39.0,60.0 36.0,59.0 34.5,54.0 34.5,48.0" fill="#ff4400"/><polygon points="26.0,45.0 30.0,44.0 32.0,48.0 31.5,54.0 28.0,55.0 26.0,50.0" fill="#e0f020"/><polygon points="16.5,30.5 21.5,30.0 24.0,32.5 23.0,37.0 19.0,38.0 16.5,35.5" fill="#40e0d0"/><polygon points="17.5,31.5 21.0,31.0 22.8,33.0 22.0,36.3 19.0,36.8 17.5,35.0" fill="#0000c0"/><polyline points="30.0,39.3 36.0,39.1 42.0,39.9 47.0,41.3" fill="none" stroke="#c8a0a0" stroke-width="0.8" stroke-linejoin="round"/><polyline points="38.0,41.0 40.5,43.0 40.0,47.0 38.0,52.0 36.0,56.0 35.0,60.0" fill="none" stroke="#c8a0a0" stroke-width="0.8" stroke-linejoin="round"/><polygon points="49.0,-3.0 51.6,1.4 57.2,4.6 62.9,8.3 68.5,11.4 74.1,14.0 78.5,17.1 81.0,19.6 84.0,21.0 84.0,-3.0" fill="#30c8e8"/><polygon points="49.0,-3.0 52.0,0.6 57.6,3.8 63.3,7.5 68.9,10.6 74.5,13.2 78.9,16.3 81.4,18.8 84.4,20.2 84.0,-3.0" fill="#ff5000"/><polygon points="49.0,-3.0 52.4,-0.2 58.0,3.0 63.7,6.7 69.3,9.8 74.9,12.4 79.3,15.5 81.8,18.0 84.8,19.4 84.0,-3.0" fill="#ff2400"/><polygon points="59.8,-3.0 59.8,0.2 66.0,1.4 72.2,4.6 78.5,7.7 84.0,10.5 84.0,-3.0" fill="#ff8800"/><polyline points="0.5,25.2 5.0,29.0 8.5,32.5 12.7,39.5 17.5,45.0 22.0,50.0 25.0,54.5 30.8,57.8 35.4,63.5 38.0,70.0 40.1,76.0 44.0,82.0 44.8,85.3 42.5,90.0 41.9,95.9 44.0,103.0 46.9,109.7 50.5,114.5 51.5,118.0 52.5,121.8 54.5,125.0 50.9,127.1 48.3,132.5 48.6,136.0 49.6,140.5 53.6,149.9 56.0,156.0 57.0,160.0 57.5,166.0 56.5,172.0 54.5,178.0 52.0,183.0 49.5,188.0 47.3,193.0 46.5,199.7 42.5,204.7 41.4,212.5 43.8,217.2 48.5,217.2 50.5,221.0 49.3,226.0 51.0,234.7" fill="none" stroke="#c8c8d0" stroke-width="0.8" stroke-linejoin="round"/><polyline points="41.0,34.5 42.0,35.2 43.0,35.8 44.0,36.4 45.0,37.0 46.0,37.6 47.0,38.1 48.0,38.7 49.1,39.3 50.1,39.8 51.1,40.3 52.2,40.9 53.2,41.5 54.2,42.1 55.2,42.5 56.3,43.0 57.4,43.4 58.5,43.8 59.6,44.1 60.7,44.4 61.8,44.7 62.9,45.2 64.0,45.6 65.1,46.1 66.1,46.5 67.2,46.9 68.4,47.3 69.5,47.6 70.6,47.8 71.8,47.9 72.9,48.2 74.1,48.4 75.2,48.6 76.3,48.9 77.5,49.1 78.6,49.3 79.7,49.6 80.9,49.8 82.0,49.8 83.0,49.5" fill="none" stroke="#b8b8d0" stroke-width="0.7" stroke-linejoin="round"/><polygon points="51.0,-2.0 51.6,1.4 57.2,4.6 62.9,8.3 68.5,11.4 74.1,14.0 78.5,17.1 81.0,19.6 82.0,20.0 82.0,45.5 80.3,46.0 78.4,45.1 73.4,43.6 68.5,42.3 63.6,40.6 58.7,39.2 53.8,37.5 48.8,35.4 44.8,33.2 41.5,31.1 39.4,29.7 37.5,26.2 36.0,23.5 33.5,21.5 30.5,20.2 27.5,20.0 24.5,18.2 21.5,15.8 18.5,13.5 15.5,11.0 12.5,8.5 10.2,6.0 8.8,3.0 8.2,-2.0" fill="#fff"/><polygon points="82.0,53.6 80.3,53.5 76.7,53.3 71.4,52.6 68.7,52.5 66.0,51.6 63.4,50.2 60.7,48.9 58.0,48.4 54.0,46.6 51.4,44.5 48.9,43.4 48.0,46.4 48.4,53.1 49.4,59.8 52.1,65.2 55.4,69.2 57.1,73.1 59.1,79.8 61.1,86.5 61.8,94.5 63.1,96.5 63.8,102.6 65.1,106.6 66.5,115.9 66.0,121.4 66.5,126.0 67.5,131.0 68.4,137.6 68.5,145.0 68.8,155.4 68.7,160.0 68.3,164.6 67.8,168.3 67.2,174.7 66.6,178.8 65.9,186.0 65.1,200.3 64.4,214.6 63.7,223.1 62.3,228.8 60.9,236.0 82.0,236.0" fill="#fff"/><polygon points="3.8,-2.0 5.3,-2.0 5.3,1.6 4.6,2.6 3.9,1.8" fill="#fff"/><polyline points="69.7,13.8 71.5,15.5 73.7,17.8 75.2,21.0 76.4,24.5 77.5,28.0 78.4,31.2 79.4,34.5 80.2,38.0 80.6,42.0" fill="none" stroke="#0000c0" stroke-width="2.2" stroke-linejoin="round"/><polyline points="4.0,0.4 6.0,1.5 8.0,3.1" fill="none" stroke="#0000c0" stroke-width="1.7" stroke-linejoin="round"/><polyline points="9.4,3.1 12.1,5.7 13.4,11.1 17.4,15.1" fill="none" stroke="#0000c0" stroke-width="1.7" stroke-linejoin="round"/><polyline points="12.1,1.7 16.1,4.4 18.8,9.8 21.4,13.8" fill="none" stroke="#0000c0" stroke-width="1.7" stroke-linejoin="round"/><polyline points="18.8,4.4 22.8,8.4 24.1,12.4" fill="none" stroke="#0000c0" stroke-width="1.7" stroke-linejoin="round"/><polyline points="15.0,8.0 17.0,12.0" fill="none" stroke="#0000c0" stroke-width="1.7" stroke-linejoin="round"/><polyline points="26.8,17.8 30.8,15.1 34.8,16.5 36.2,20.5" fill="none" stroke="#0000c0" stroke-width="1.7" stroke-linejoin="round"/><polyline points="36.2,20.5 40.2,16.5 44.2,12.4 46.2,9.8" fill="none" stroke="#0000c0" stroke-width="1.7" stroke-linejoin="round"/><polyline points="30.8,21.8 34.8,23.1 38.9,21.8" fill="none" stroke="#0000c0" stroke-width="1.7" stroke-linejoin="round"/><polyline points="24.0,17.0 26.0,14.5 28.0,15.5" fill="none" stroke="#0000c0" stroke-width="1.7" stroke-linejoin="round"/><polygon points="62.5,96.2 66.0,96.0 70.0,97.2 73.2,98.2 70.0,99.6 66.0,99.8 63.0,99.5" fill="#0000c0"/><polygon points="64.5,106.0 68.0,107.5 71.0,110.0 70.0,114.0 71.5,118.0 69.0,120.0 66.5,118.0 65.2,112.0" fill="#0000c0"/><polygon points="66.0,124.0 70.0,124.6 75.0,125.5 79.9,126.5 79.9,128.6 75.0,128.4 70.0,129.2 66.2,129.4" fill="#0000c0"/>
</g>
<rect x="0" y="0" width="80.6" height="234.1" fill="none" stroke="#b4b4b4" stroke-width="0.8"/>
<path d="M13.5 0v-2.6M13.5 234.1v2.6M40.3 0v-2.6M40.3 234.1v2.6M67.1 0v-2.6M67.1 234.1v2.6M0 20.0h-2.6M80.6 20.0h2.6M0 59.0h-2.6M80.6 59.0h2.6M0 98.0h-2.6M80.6 98.0h2.6M0 137.0h-2.6M80.6 137.0h2.6M0 176.0h-2.6M80.6 176.0h2.6M0 215.0h-2.6M80.6 215.0h2.6" stroke="#a0a0a0" stroke-width="0.8" fill="none"/>
<text x="-7.6" y="24.3" font-size="12.3" text-anchor="end" fill="#262626">49</text>
<text x="-7.6" y="63.3" font-size="12.3" text-anchor="end" fill="#262626">48</text>
<text x="-7.6" y="102.3" font-size="12.3" text-anchor="end" fill="#262626">47</text>
<text x="-7.6" y="141.3" font-size="12.3" text-anchor="end" fill="#262626">46</text>
<text x="-7.6" y="180.3" font-size="12.3" text-anchor="end" fill="#262626">45</text>
<text x="-7.6" y="219.3" font-size="12.3" text-anchor="end" fill="#262626">44</text>
<text x="13.5" y="252.5" font-size="12.3" text-anchor="middle" fill="#262626">-126</text>
<text x="67.1" y="252.5" font-size="12.3" text-anchor="middle" fill="#262626">-124</text>
<text x="39.8" y="266.3" font-size="10.5" text-anchor="middle" fill="#262626">Longitude (deg E)</text>
<text transform="translate(-28.2,117.5) rotate(-90)" font-size="10.5" text-anchor="middle" fill="#262626">Latitude (deg N)</text>
<rect x="93.7" y="0.4" width="12.3" height="233.7" fill="url(#jetR)"/>
<path d="M106.0 234.1h2" stroke="#a0a0a0" stroke-width="0.8"/>
<text x="112.1" y="238.5" font-size="12" fill="#262626">7.5</text>
<path d="M106.0 195.18333333333334h2" stroke="#a0a0a0" stroke-width="0.8"/>
<text x="112.1" y="199.58333333333334" font-size="12" fill="#262626">7.6</text>
<path d="M106.0 156.26666666666665h2" stroke="#a0a0a0" stroke-width="0.8"/>
<text x="112.1" y="160.66666666666666" font-size="12" fill="#262626">7.7</text>
<path d="M106.0 117.35h2" stroke="#a0a0a0" stroke-width="0.8"/>
<text x="112.1" y="121.75" font-size="12" fill="#262626">7.8</text>
<path d="M106.0 78.43333333333334h2" stroke="#a0a0a0" stroke-width="0.8"/>
<text x="112.1" y="82.83333333333334" font-size="12" fill="#262626">7.9</text>
<path d="M106.0 39.51666666666665h2" stroke="#a0a0a0" stroke-width="0.8"/>
<text x="112.1" y="43.91666666666665" font-size="12" fill="#262626">8</text>
<path d="M106.0 0.5999999999999943h2" stroke="#a0a0a0" stroke-width="0.8"/>
<text x="112.1" y="4.999999999999995" font-size="12" fill="#262626">8.1</text>
</g>
<text x="583.5" y="35.6" font-size="14.05" font-weight="bold" fill="#000">Bottom pH</text>
<g transform="translate(835.0,40.3)">
<g clip-path="url(#mapclip)">
<rect x="-2" y="-2" width="84.6" height="238.1" fill="#ff2400"/><polygon points="-2.0,19.0 0.0,19.9 1.7,21.4 3.3,22.9 4.6,24.7 5.8,26.5 7.0,28.4 8.2,30.2 9.4,32.1 10.9,33.7 12.4,35.4 13.8,37.1 15.3,38.7 16.7,40.4 18.2,42.0 19.7,43.5 21.3,45.0 22.9,46.4 24.5,47.9 26.1,49.4 27.7,50.9 29.1,52.6 30.5,54.3 32.3,55.6 34.1,56.9 35.9,58.1 37.3,59.8 38.2,61.8 38.8,63.9 39.2,66.1 39.6,68.3 40.7,70.2 41.8,72.0 43.1,73.8 44.5,75.4 46.0,77.0 47.5,78.6 48.2,80.7 48.8,82.8 47.9,84.7 46.6,86.4 45.0,87.8 43.6,89.5 42.7,91.4 41.9,93.5 42.3,95.6 42.7,97.8 43.3,99.9 44.1,102.0 45.0,104.0 46.1,105.9 47.4,107.7 48.6,109.6 49.6,111.6 50.6,113.5 51.6,115.5 52.2,117.6 52.7,119.8 52.2,121.9 52.1,124.0 52.9,126.0 52.9,128.0 51.9,129.9 50.8,131.8 49.8,133.7 48.9,135.7 48.5,137.9 48.5,140.1 49.3,142.1 50.2,144.1 51.3,145.9 53.4,145.5 55.4,145.1 55.9,146.2 55.2,148.3 55.3,150.4 55.8,152.5 56.4,154.7 57.4,156.6 58.4,158.6 59.0,160.7 59.2,162.9 59.4,165.1 59.8,167.3 59.9,169.5 59.7,171.7 58.8,173.7 58.0,175.7 56.9,177.6 55.5,179.3 54.1,181.0 53.1,182.9 52.8,185.1 52.4,187.3 52.1,189.5 51.8,191.7 51.0,193.7 49.8,195.5 48.6,197.4 47.6,199.3 46.4,201.2 45.2,203.0 43.9,204.9 43.5,206.9 43.8,209.1 43.9,211.3 44.0,213.5 44.0,215.7 46.0,216.5 48.0,217.3 49.9,218.2 51.2,219.9 50.9,221.9 50.2,224.0 50.5,226.1 51.0,228.3 51.5,230.4 51.8,232.6 52.1,234.8 52.4,237.0 52.4,240.0 90.0,240.0 90.0,-5.0 -5.0,-5.0 -5.0,19.0" fill="#ff4400"/><polygon points="-2.0,17.4 0.0,18.2 1.7,19.7 3.3,21.1 4.6,22.9 5.8,24.7 7.1,26.5 8.3,28.2 9.6,30.0 11.1,31.6 12.6,33.2 14.1,34.8 15.6,36.4 17.2,37.8 18.8,39.1 20.5,40.2 22.2,41.2 23.9,42.1 25.6,42.9 27.3,44.2 29.0,45.5 30.6,47.0 32.0,48.6 33.8,49.8 35.6,51.0 37.5,52.2 38.8,53.8 39.8,55.7 40.5,57.7 40.9,59.8 41.4,61.9 42.1,63.7 42.8,65.5 43.5,67.3 44.5,69.0 45.4,70.7 46.4,72.4 47.1,74.4 47.8,76.4 47.3,78.3 46.6,80.0 45.8,81.6 45.2,83.2 44.7,85.2 44.3,87.2 44.7,89.3 45.1,91.4 45.7,93.5 46.4,95.5 47.2,97.5 48.2,99.4 49.3,101.3 50.3,103.1 51.2,105.1 52.1,107.0 53.1,109.0 53.7,111.0 54.3,113.1 54.2,115.2 54.4,117.2 55.2,119.2 55.4,121.2 55.0,123.1 54.6,125.0 54.4,126.9 54.2,128.9 54.2,131.0 54.4,133.1 55.1,135.1 55.9,137.1 56.8,139.0 58.2,139.6 59.5,140.2 59.9,141.7 59.6,143.8 59.8,146.0 60.2,148.1 60.6,150.2 61.2,152.3 61.9,154.3 62.3,156.4 62.4,158.6 62.6,160.7 62.9,162.9 63.0,165.1 63.0,167.2 62.6,169.3 62.0,171.4 61.3,173.4 60.5,175.3 59.7,177.2 59.1,179.2 58.9,181.4 58.7,183.6 58.5,185.8 58.3,187.9 57.8,190.0 57.2,192.0 56.5,194.0 55.9,196.1 55.3,198.1 54.7,200.1 54.1,202.1 53.9,204.2 54.1,206.4 54.2,208.6 54.3,210.8 54.4,213.0 55.3,214.5 56.1,216.0 57.0,217.7 57.5,219.6 57.2,221.8 56.7,223.9 56.7,226.1 56.8,228.2 56.9,230.4 57.0,232.6 57.0,234.8 57.1,237.0 57.1,240.0 90.0,240.0 90.0,-5.0 -5.0,-5.0 -5.0,17.4" fill="#ff7800"/><polygon points="-2.0,11.9 0.1,12.5 1.7,14.0 3.2,15.6 4.6,17.2 6.0,19.0 7.4,20.7 8.7,22.4 10.2,24.0 11.7,25.6 13.3,27.2 14.8,28.8 16.4,30.3 18.3,31.2 20.3,31.9 22.3,32.0 24.3,32.1 26.2,31.8 28.1,31.4 30.1,32.3 32.0,33.3 33.7,34.6 35.3,36.2 37.0,37.6 38.8,38.8 40.5,40.1 41.9,41.8 43.1,43.6 43.8,45.6 44.4,47.8 44.9,49.9 44.8,51.9 44.5,53.8 44.3,55.8 44.3,57.8 44.4,59.8 44.7,61.8 45.3,63.9 46.0,66.0 46.4,68.0 46.8,69.9 47.1,71.8 47.5,73.7 47.7,75.7 47.8,77.8 48.2,80.0 48.6,82.1 49.1,84.3 49.6,86.4 50.3,88.5 51.0,90.5 51.8,92.5 52.6,94.5 53.4,96.6 54.1,98.6 54.9,100.7 55.6,102.7 56.3,104.8 56.7,106.9 57.2,109.0 57.9,111.1 58.3,113.1 58.6,115.2 59.0,117.3 59.5,119.2 60.1,121.2 60.4,123.4 60.8,125.5 61.4,127.6 61.9,129.7 62.5,131.8 63.2,133.5 63.7,135.3 63.9,137.3 64.0,139.4 64.1,141.6 64.3,143.8 64.5,146.0 64.8,148.1 65.1,150.3 65.3,152.5 65.4,154.7 65.5,156.9 65.7,159.0 65.7,161.2 65.8,163.4 65.7,165.6 65.4,167.8 65.0,169.9 64.6,172.0 64.2,174.1 63.8,176.3 63.7,178.5 63.6,180.7 63.5,182.9 63.3,185.0 63.0,187.2 62.7,189.4 62.4,191.5 62.1,193.7 61.8,195.8 61.5,198.0 61.2,200.1 61.2,202.3 61.2,204.5 61.3,206.7 61.3,208.9 61.3,211.1 61.4,213.2 61.5,215.2 61.6,217.3 61.5,219.5 61.1,221.6 60.8,223.8 60.5,226.0 60.3,228.2 60.1,230.4 60.0,232.6 59.9,234.8 59.8,237.0 59.8,240.0 90.0,240.0 90.0,-5.0 -5.0,-5.0 -5.0,11.9" fill="#f4f000"/><polygon points="-2.0,9.0 0.3,9.4 4.4,13.9 8.8,19.2 13.3,23.7 16.9,27.3 21.3,28.2 25.8,27.3 29.4,25.5 32.0,26.4 35.0,28.0 38.0,31.0 42.0,34.0 45.0,38.0 46.7,44.4 90.0,44.4 90.0,-5.0 -5.0,-5.0 -5.0,9.0" fill="#a8ff68"/><polygon points="47.0,44.3 46.5,45.8 46.0,47.4 45.6,49.0 45.3,50.6 45.1,52.2 45.0,53.8 44.8,55.5 44.9,57.1 45.4,58.7 45.9,60.3 46.4,61.8 47.1,63.3 47.7,64.9 48.4,66.3 49.2,67.8 49.9,69.3 50.4,70.8 50.7,72.5 51.1,74.1 51.4,75.7 51.8,77.3 52.1,78.9 52.4,80.5 52.8,82.1 53.2,83.7 53.7,85.3 54.2,86.9 54.6,88.5 55.1,90.1 55.5,91.7 56.0,93.3 56.4,94.8 56.9,96.4 57.4,98.0 57.9,99.6 58.3,101.2 58.8,102.7 59.3,104.3 59.8,105.9 60.2,107.5 60.6,109.1 61.0,110.7 61.3,112.3 61.8,113.9 62.4,115.5 62.9,117.0 63.3,118.6 63.6,120.2 63.9,121.8 64.2,123.4 64.5,125.1 64.8,126.7 65.1,128.3 65.5,129.9 65.7,131.6 65.9,133.2 66.0,134.9 66.1,136.5 66.3,138.2 66.3,139.8 66.4,141.5 66.5,143.1 66.6,144.8 66.7,146.4 66.8,148.1 66.8,149.7 66.9,151.4 66.9,153.0 67.0,154.7 67.1,156.3 67.1,158.0 67.1,159.6 67.1,161.3 67.2,163.0 67.2,164.6 67.0,166.2 66.7,167.9 66.5,169.5 66.3,171.2 66.1,172.8 65.9,174.4 65.8,176.1 65.6,177.7 65.5,179.4 65.4,181.0 65.3,182.7 65.1,184.3 65.0,186.0 64.8,187.6 64.7,189.3 64.5,190.9 64.4,192.6 64.2,194.2 64.1,195.9 64.0,197.5 63.8,199.2 63.7,200.8 63.7,202.5 63.7,204.1 63.7,205.8 63.7,207.4 63.7,209.1 63.5,210.7 63.4,212.4 63.3,214.0 63.2,215.7 63.1,217.3 62.9,219.0 62.7,220.6 62.5,222.3 62.2,223.9 61.9,225.5 61.6,227.1 61.4,228.8 61.2,230.4 61.0,232.1 60.9,233.7 60.7,235.4 60.6,237.0 60.6,240.0 90.0,240.0 90.0,40.3 44.0,40.3" fill="#d0ff38"/><polygon points="47.4,44.1 46.9,45.7 46.5,47.3 46.2,48.9 46.0,50.5 45.9,52.1 45.8,53.8 45.8,55.4 45.9,57.0 46.3,58.6 46.8,60.2 47.4,61.8 48.1,63.3 48.8,64.8 49.5,66.2 50.3,67.7 51.2,69.1 51.7,70.6 52.1,72.2 52.6,73.8 52.9,75.4 53.3,77.0 53.7,78.6 54.1,80.2 54.4,81.8 54.9,83.4 55.4,85.0 55.8,86.6 56.3,88.2 56.6,89.8 57.0,91.4 57.4,93.0 57.7,94.6 58.2,96.2 58.6,97.8 59.1,99.4 59.5,101.0 59.9,102.6 60.4,104.1 60.9,105.7 61.3,107.3 61.7,108.9 62.1,110.5 62.4,112.2 62.8,113.8 63.2,115.3 63.7,116.9 64.0,118.5 64.2,120.1 64.4,121.8 64.7,123.4 65.0,125.0 65.3,126.7 65.6,128.3 65.9,129.9 66.2,131.5 66.3,133.2 66.5,134.8 66.7,136.5 66.8,138.1 66.9,139.8 66.9,141.4 67.0,143.1 67.1,144.7 67.1,146.4 67.2,148.0 67.3,149.7 67.3,151.4 67.4,153.0 67.5,154.7 67.5,156.3 67.5,158.0 67.5,159.6 67.5,161.3 67.5,162.9 67.5,164.6 67.2,166.2 67.0,167.9 66.8,169.5 66.6,171.2 66.4,172.8 66.2,174.4 66.1,176.1 65.9,177.7 65.8,179.4 65.7,181.0 65.5,182.7 65.4,184.3 65.2,186.0 65.1,187.6 64.9,189.3 64.8,190.9 64.7,192.6 64.5,194.2 64.4,195.9 64.3,197.5 64.2,199.2 64.1,200.8 64.0,202.5 64.0,204.1 64.0,205.8 63.9,207.4 63.9,209.1 63.8,210.7 63.7,212.4 63.6,214.1 63.5,215.7 63.4,217.4 63.2,219.0 63.0,220.6 62.8,222.3 62.5,223.9 62.2,225.5 61.9,227.2 61.6,228.8 61.4,230.4 61.2,232.1 61.0,233.7 60.8,235.4 60.7,237.0 60.7,240.0 90.0,240.0 90.0,40.1 44.4,40.1" fill="#58f4c8"/><polygon points="18.0,35.0 25.0,36.5 32.0,37.5 38.0,38.5 41.0,41.0 42.0,46.0 40.0,50.0 35.0,52.0 30.0,50.0 25.0,47.5 20.0,45.5 17.0,43.5" fill="#ff7800"/><polygon points="27.0,45.0 31.0,44.0 34.0,47.0 31.0,51.0 28.0,49.0" fill="#f4f000"/><polygon points="38.5,30.5 41.5,31.1 44.8,33.2 48.8,35.4 53.8,37.5 58.7,39.2 63.6,40.6 68.5,42.3 73.4,43.6 78.4,45.1 80.3,46.0 84.0,46.5 84.0,52.6 80.3,53.5 76.7,53.3 71.4,52.6 68.7,52.5 66.0,51.6 63.4,50.2 60.7,48.9 58.0,48.4 54.0,46.6 51.4,44.5 48.9,43.4 46.5,43.5" fill="#e8f800"/><polygon points="38.5,32.0 41.5,32.6 44.8,34.7 48.8,36.9 53.8,39.0 58.7,40.7 63.6,42.1 68.5,43.8 73.4,45.1 78.4,46.6 80.3,47.5 84.0,48.0 84.0,51.1 80.3,52.0 76.7,51.8 71.4,51.1 68.7,51.0 66.0,50.1 63.4,48.7 60.7,47.4 58.0,46.9 54.0,45.1 51.4,43.0 48.9,41.9 46.5,42.0" fill="#ff3400"/><polygon points="17.0,37.0 25.0,37.5 32.0,38.0 38.0,38.5 43.0,38.5 47.8,42.0 47.0,46.0 46.2,52.0 45.8,58.0 44.5,62.0 40.0,62.0 34.0,58.0 26.0,50.0 17.0,44.0" fill="#ff3400"/><polygon points="27.5,44.0 31.0,43.0 33.0,46.0 32.5,52.0 30.0,55.0 28.0,52.0" fill="#ff9000"/><polyline points="27.5,44.0 31.0,43.0 33.0,46.0 32.5,52.0 30.0,55.0 28.0,52.0 27.5,44.0" fill="none" stroke="#141414" stroke-width="0.9" stroke-linejoin="round"/><polygon points="17.5,27.0 22.0,26.5 24.0,29.0 21.0,32.0 18.0,31.0" fill="#e8f000"/><polyline points="17.5,27.0 22.0,26.5 24.0,29.0 21.0,32.0 18.0,31.0 17.5,27.0" fill="none" stroke="#141414" stroke-width="0.9" stroke-linejoin="round"/><polygon points="25.0,28.5 29.0,27.5 32.0,30.0 30.0,33.0 26.5,32.0" fill="#ff9000"/><polyline points="25.0,28.5 29.0,27.5 32.0,30.0 30.0,33.0 26.5,32.0 25.0,28.5" fill="none" stroke="#141414" stroke-width="0.9" stroke-linejoin="round"/><polyline points="47.2,43.5 46.2,48.0 45.6,54.0 45.2,59.0 44.2,63.0" fill="none" stroke="#141414" stroke-width="1.0" stroke-linejoin="round"/><polygon points="49.0,-3.0 51.6,1.4 57.2,4.6 62.9,8.3 68.5,11.4 74.1,14.0 78.5,17.1 81.0,19.6 84.0,21.0 84.0,-3.0" fill="#a0ff70"/><polygon points="49.0,-3.0 52.1,0.4 57.8,3.6 63.4,7.3 69.0,10.4 74.6,13.0 79.0,16.1 81.5,18.6 84.5,20.0 84.0,-3.0" fill="#f0f000"/><polygon points="49.0,-3.0 52.5,-0.4 58.1,2.8 63.8,6.5 69.4,9.6 75.0,12.2 79.4,15.3 81.9,17.8 84.9,19.2 84.0,-3.0" fill="#ff7000"/><polygon points="49.0,-3.0 53.2,-1.8 58.9,1.4 64.5,5.1 70.1,8.2 75.7,10.8 80.1,13.9 82.6,16.4 85.6,17.8 84.0,-3.0" fill="#ff2800"/><polyline points="0.5,25.2 5.0,29.0 8.5,32.5 12.7,39.5 17.5,45.0 22.0,50.0 25.0,54.5 30.8,57.8 35.4,63.5 38.0,70.0 40.1,76.0 44.0,82.0 44.8,85.3 42.5,90.0 41.9,95.9 44.0,103.0 46.9,109.7 50.5,114.5 51.5,118.0 52.5,121.8 54.5,125.0 50.9,127.1 48.3,132.5 48.6,136.0 49.6,140.5 53.6,149.9 56.0,156.0 57.0,160.0 57.5,166.0 56.5,172.0 54.5,178.0 52.0,183.0 49.5,188.0 47.3,193.0 46.5,199.7 42.5,204.7 41.4,212.5 43.8,217.2 48.5,217.2 50.5,221.0 49.3,226.0 51.0,234.7" fill="none" stroke="#c8c8d0" stroke-width="0.8" stroke-linejoin="round"/><polyline points="41.0,34.5 42.0,35.2 43.0,35.8 44.0,36.4 45.0,37.0 46.0,37.6 47.0,38.1 48.0,38.7 49.1,39.3 50.1,39.8 51.1,40.3 52.2,40.9 53.2,41.5 54.2,42.1 55.2,42.5 56.3,43.0 57.4,43.4 58.5,43.8 59.6,44.1 60.7,44.4 61.8,44.7 62.9,45.2 64.0,45.6 65.1,46.1 66.1,46.5 67.2,46.9 68.4,47.3 69.5,47.6 70.6,47.8 71.8,47.9 72.9,48.2 74.1,48.4 75.2,48.6 76.3,48.9 77.5,49.1 78.6,49.3 79.7,49.6 80.9,49.8 82.0,49.8 83.0,49.5" fill="none" stroke="#b8b8d0" stroke-width="0.7" stroke-linejoin="round"/><polyline points="-2.0,15.8 0.1,16.5 1.7,18.0 3.3,19.5 4.6,21.2 5.9,22.9 7.2,24.7 8.5,26.5 9.8,28.2 11.3,29.7 12.8,31.3 14.3,32.9 15.8,34.5 17.5,35.7 19.3,36.8 21.1,37.5 22.9,38.2 24.7,38.6 26.4,39.0 28.3,40.1 30.0,41.3 31.7,42.7 33.2,44.2 34.9,45.5 36.7,46.7 38.6,47.9 39.9,49.5 41.0,51.3 41.7,53.3 42.2,55.3 42.7,57.4 43.1,59.3 43.4,61.1 43.8,62.9 44.4,64.7 45.0,66.5 45.7,68.2 46.4,70.2 47.1,72.2 47.0,74.2 46.7,75.9 46.3,77.6 46.1,79.3 45.9,81.3 45.8,83.3 46.2,85.4 46.6,87.5 47.2,89.5 47.8,91.6 48.5,93.6 49.4,95.5 50.4,97.4 51.3,99.3 52.2,101.3 53.1,103.2 53.9,105.2 54.6,107.2 55.2,109.3 55.4,111.3 55.8,113.3 56.5,115.3 56.8,117.3 56.8,119.3 56.8,121.2 56.9,123.1 57.1,125.1 57.3,127.1 57.7,129.2 58.3,131.3 59.0,133.3 59.7,135.3 60.8,136.4 61.7,137.6 62.1,139.3 62.0,141.5 62.1,143.6 62.4,145.8 62.7,147.9 63.2,150.0 63.7,152.1 64.0,154.2 64.1,156.4 64.3,158.5 64.5,160.7 64.6,162.8 64.6,165.0 64.4,167.1 64.1,169.2 63.6,171.3 63.0,173.3 62.4,175.3 62.0,177.4 61.9,179.6 61.8,181.8 61.6,183.9 61.5,186.1 61.2,188.2 60.7,190.3 60.3,192.4 60.0,194.5 59.6,196.6 59.3,198.7 58.9,200.8 58.9,202.9 59.0,205.1 59.1,207.3 59.2,209.5 59.2,211.7 59.6,213.6 60.0,215.5 60.3,217.4 60.4,219.5 60.1,221.7 59.7,223.8 59.6,226.0 59.4,228.2 59.3,230.4 59.3,232.6 59.3,234.8 59.2,237.0" fill="none" stroke="#141414" stroke-width="1.1" stroke-linejoin="round"/><polyline points="41.9,60.6 42.3,62.2 42.8,63.8 43.5,65.4 44.3,66.8 45.1,68.3 46.0,69.8 46.9,71.2 47.7,72.6 48.4,74.1 48.9,75.6 49.3,77.3 49.5,78.9 49.4,80.5 49.2,82.0 49.0,83.4 48.7,84.9 48.7,86.4 48.8,88.0 48.9,89.6 49.3,91.2 49.8,92.8 50.3,94.5 50.9,96.0 51.5,97.6 52.1,99.2 52.7,100.8 53.5,102.3 54.2,103.8 54.8,105.3 55.5,106.9 56.1,108.5 56.6,110.1 57.1,111.6 57.6,113.3 58.0,114.9 58.3,116.5 58.6,118.0 59.3,119.6 59.9,121.1 60.1,122.7 60.1,124.3 60.2,125.9 60.2,127.5 60.2,129.0 60.3,130.6 60.5,132.3 60.7,133.9 60.9,135.6 61.2,137.2 61.6,138.8 62.0,140.3" fill="none" stroke="#141414" stroke-width="0.9" stroke-linejoin="round"/><polyline points="41.5,32.5 44.8,34.6 48.8,36.8 53.8,38.9 58.7,40.6 63.6,42.0 68.5,43.7 73.4,45.0 78.4,46.5 80.3,47.4 82.0,47.4" fill="none" stroke="#141414" stroke-width="1.2" stroke-linejoin="round"/><polyline points="48.9,42.0 51.4,43.1 54.0,45.2 58.0,47.0 60.7,47.5 63.4,48.8 66.0,50.2 68.7,51.1 71.4,51.2 76.7,51.9 80.3,52.1 82.0,51.2" fill="none" stroke="#141414" stroke-width="1.1" stroke-linejoin="round"/><polyline points="52.6,-0.4 58.2,2.8 63.9,6.5 69.5,9.6 75.1,12.2 79.5,15.3 82.0,17.8 85.0,19.2" fill="none" stroke="#141414" stroke-width="1.0" stroke-linejoin="round"/><polyline points="20.0,33.0 24.0,31.0 28.0,33.0 31.0,31.0 35.0,33.0 38.0,36.0 40.0,34.0" fill="none" stroke="#141414" stroke-width="1.0" stroke-linejoin="round"/><polyline points="22.0,37.0 25.0,40.0 24.0,44.0 27.0,46.0" fill="none" stroke="#141414" stroke-width="1.0" stroke-linejoin="round"/><polygon points="51.0,-2.0 51.6,1.4 57.2,4.6 62.9,8.3 68.5,11.4 74.1,14.0 78.5,17.1 81.0,19.6 82.0,20.0 82.0,45.5 80.3,46.0 78.4,45.1 73.4,43.6 68.5,42.3 63.6,40.6 58.7,39.2 53.8,37.5 48.8,35.4 44.8,33.2 41.5,31.1 39.4,29.7 37.5,26.2 36.0,23.5 33.5,21.5 30.5,20.2 27.5,20.0 24.5,18.2 21.5,15.8 18.5,13.5 15.5,11.0 12.5,8.5 10.2,6.0 8.8,3.0 8.2,-2.0" fill="#fff"/><polygon points="82.0,53.6 80.3,53.5 76.7,53.3 71.4,52.6 68.7,52.5 66.0,51.6 63.4,50.2 60.7,48.9 58.0,48.4 54.0,46.6 51.4,44.5 48.9,43.4 48.0,46.4 48.4,53.1 49.4,59.8 52.1,65.2 55.4,69.2 57.1,73.1 59.1,79.8 61.1,86.5 61.8,94.5 63.1,96.5 63.8,102.6 65.1,106.6 66.5,115.9 66.0,121.4 66.5,126.0 67.5,131.0 68.4,137.6 68.5,145.0 68.8,155.4 68.7,160.0 68.3,164.6 67.8,168.3 67.2,174.7 66.6,178.8 65.9,186.0 65.1,200.3 64.4,214.6 63.7,223.1 62.3,228.8 60.9,236.0 82.0,236.0" fill="#fff"/><polygon points="3.8,-2.0 5.3,-2.0 5.3,1.6 4.6,2.6 3.9,1.8" fill="#fff"/><polyline points="69.7,13.8 71.5,15.5 73.7,17.8 75.2,21.0 76.4,24.5 77.5,28.0 78.4,31.2 79.4,34.5 80.2,38.0 80.6,42.0" fill="none" stroke="#90f0a0" stroke-width="2.0" stroke-linejoin="round"/><polyline points="4.0,0.4 6.0,1.5 8.0,3.1" fill="none" stroke="#a8ff68" stroke-width="1.7" stroke-linejoin="round"/><polyline points="9.4,3.1 12.1,5.7 13.4,11.1 17.4,15.1" fill="none" stroke="#a8ff68" stroke-width="1.7" stroke-linejoin="round"/><polyline points="12.1,1.7 16.1,4.4 18.8,9.8 21.4,13.8" fill="none" stroke="#a8ff68" stroke-width="1.7" stroke-linejoin="round"/><polyline points="18.8,4.4 22.8,8.4 24.1,12.4" fill="none" stroke="#a8ff68" stroke-width="1.7" stroke-linejoin="round"/><polyline points="15.0,8.0 17.0,12.0" fill="none" stroke="#a8ff68" stroke-width="1.7" stroke-linejoin="round"/><polyline points="26.8,17.8 30.8,15.1 34.8,16.5 36.2,20.5" fill="none" stroke="#a8ff68" stroke-width="1.7" stroke-linejoin="round"/><polyline points="36.2,20.5 40.2,16.5 44.2,12.4 46.2,9.8" fill="none" stroke="#a8ff68" stroke-width="1.7" stroke-linejoin="round"/><polyline points="30.8,21.8 34.8,23.1 38.9,21.8" fill="none" stroke="#a8ff68" stroke-width="1.7" stroke-linejoin="round"/><polyline points="24.0,17.0 26.0,14.5 28.0,15.5" fill="none" stroke="#a8ff68" stroke-width="1.7" stroke-linejoin="round"/><polygon points="62.5,96.2 66.0,96.0 70.0,97.2 73.2,98.2 70.0,99.6 66.0,99.8 63.0,99.5" fill="#58f4c8"/><polygon points="64.5,106.0 68.0,107.5 71.0,110.0 70.0,114.0 71.5,118.0 69.0,120.0 66.5,118.0 65.2,112.0" fill="#58f4c8"/><polygon points="66.0,124.0 70.0,124.6 75.0,125.5 79.9,126.5 79.9,128.6 75.0,128.4 70.0,129.2 66.2,129.4" fill="#58f4c8"/>
</g>
<rect x="0" y="0" width="80.6" height="234.1" fill="none" stroke="#b4b4b4" stroke-width="0.8"/>
<path d="M13.5 0v-2.6M13.5 234.1v2.6M40.3 0v-2.6M40.3 234.1v2.6M67.1 0v-2.6M67.1 234.1v2.6M0 20.0h-2.6M80.6 20.0h2.6M0 59.0h-2.6M80.6 59.0h2.6M0 98.0h-2.6M80.6 98.0h2.6M0 137.0h-2.6M80.6 137.0h2.6M0 176.0h-2.6M80.6 176.0h2.6M0 215.0h-2.6M80.6 215.0h2.6" stroke="#a0a0a0" stroke-width="0.8" fill="none"/>
<text x="-7.6" y="24.3" font-size="12.3" text-anchor="end" fill="#262626">49</text>
<text x="-7.6" y="63.3" font-size="12.3" text-anchor="end" fill="#262626">48</text>
<text x="-7.6" y="102.3" font-size="12.3" text-anchor="end" fill="#262626">47</text>
<text x="-7.6" y="141.3" font-size="12.3" text-anchor="end" fill="#262626">46</text>
<text x="-7.6" y="180.3" font-size="12.3" text-anchor="end" fill="#262626">45</text>
<text x="-7.6" y="219.3" font-size="12.3" text-anchor="end" fill="#262626">44</text>
<text x="13.5" y="252.5" font-size="12.3" text-anchor="middle" fill="#262626">-126</text>
<text x="67.1" y="252.5" font-size="12.3" text-anchor="middle" fill="#262626">-124</text>
<text x="39.8" y="266.3" font-size="10.5" text-anchor="middle" fill="#262626">Longitude (deg E)</text>
<text transform="translate(-28.2,117.5) rotate(-90)" font-size="10.5" text-anchor="middle" fill="#262626">Latitude (deg N)</text>
<rect x="94.2" y="0.4" width="12.3" height="233.7" fill="url(#jetR)"/>
<path d="M106.5 234.1h2" stroke="#a0a0a0" stroke-width="0.8"/>
<text x="112.6" y="238.5" font-size="12" fill="#262626">0</text>
<path d="M106.5 175.725h2" stroke="#a0a0a0" stroke-width="0.8"/>
<text x="112.6" y="180.125" font-size="12" fill="#262626">1</text>
<path d="M106.5 117.35h2" stroke="#a0a0a0" stroke-width="0.8"/>
<text x="112.6" y="121.75" font-size="12" fill="#262626">2</text>
<path d="M106.5 58.974999999999994h2" stroke="#a0a0a0" stroke-width="0.8"/>
<text x="112.6" y="63.37499999999999" font-size="12" fill="#262626">3</text>
<path d="M106.5 0.5999999999999943h2" stroke="#a0a0a0" stroke-width="0.8"/>
<text x="112.6" y="4.999999999999995" font-size="12" fill="#262626">4</text>
</g>
<text x="816.9" y="35.6" font-size="14.05" font-weight="bold" fill="#000">Bottom Omega</text>
<defs>
<linearGradient id="lg1" x1="0.1" y1="0.15" x2="0.9" y2="0.9">
<stop offset="0" stop-color="#70c8dc"/><stop offset="0.3" stop-color="#4aa4cc"/><stop offset="0.6" stop-color="#3a78b8"/><stop offset="1" stop-color="#2450a0"/>
</linearGradient>
<radialGradient id="lg2" cx="0.42" cy="0.0" r="0.55">
<stop offset="0" stop-color="#d0f0f4" stop-opacity="0.95"/><stop offset="0.5" stop-color="#a8dce8" stop-opacity="0.45"/><stop offset="1" stop-color="#a0d8e8" stop-opacity="0"/>
</radialGradient>
<radialGradient id="lg3" cx="0.15" cy="0.8" r="0.4">
<stop offset="0" stop-color="#60b0cc" stop-opacity="0.6"/><stop offset="1" stop-color="#60b0cc" stop-opacity="0"/>
</radialGradient>
<radialGradient id="lg4" cx="0.95" cy="0.45" r="0.5">
<stop offset="0" stop-color="#1c4898" stop-opacity="0.7"/><stop offset="1" stop-color="#1c4898" stop-opacity="0"/>
</radialGradient>
<clipPath id="logoclip"><circle cx="508.7" cy="55.1" r="33.7"/></clipPath>
</defs>
<g clip-path="url(#logoclip)">
<rect x="474" y="21" width="70" height="70" fill="url(#lg1)"/>
<rect x="474" y="21" width="70" height="70" fill="url(#lg2)"/>
<rect x="474" y="21" width="70" height="70" fill="url(#lg3)"/>
<rect x="474" y="21" width="70" height="70" fill="url(#lg4)"/>
<path d="M500 21 L506 21 L498 60 L492 60 Z" fill="#c0e8f0" opacity="0.18"/>
<path d="M512 21 L517 21 L522 58 L516 58 Z" fill="#c0e8f0" opacity="0.15"/>
<path d="M497 69.5 q11 -5.5 22 -1.5 l4.5 -3 l-1.2 4.6 l1.5 4.2 l-4.5 -2.8 q-11 5 -22.3 -1.5 z" fill="#3e5f86" opacity="0.8"/>
<path d="M499 69.2 q10 -3.5 20 -0.8" stroke="#a8c0d0" stroke-width="0.8" fill="none" opacity="0.7"/>
</g>
<text x="480" y="60.5" font-family="'Liberation Serif', serif" font-size="14.8" textLength="56" lengthAdjust="spacingAndGlyphs" fill="#ffffff">J-SCOPE</text>

<path d="M63.2 317.75H967.5M63.2 332.47H967.5M63.2 361.93H967.5M63.2 376.65H967.5M135.0 312.3V382.6M275.4 312.3V382.6M410.8 312.3V382.6M551.3 312.3V382.6M691.4 312.3V382.6M827.3 312.3V382.6" stroke="#e2e2e2" stroke-width="0.9" fill="none"/>
<path d="M63.2 347.20H967.5" stroke="#cfcfcf" stroke-width="0.9" stroke-dasharray="1.5 1.5" fill="none"/>
<polyline points="63.1,351.62 70.0,349.50 76.2,348.00 82.5,347.88 86.2,350.50 92.5,350.75 97.5,353.50 102.5,354.50 110.0,354.50 116.2,353.25 121.2,351.62 127.5,350.50 133.8,350.12 137.5,348.25 143.8,347.50 152.5,347.62 155.0,348.12 177.5,348.12 180.0,347.38 182.5,347.25 185.0,347.25 190.0,348.00 194.4,348.88 198.8,347.38 202.5,344.50 207.5,342.00 213.8,341.38 220.0,342.25 226.2,343.00 231.2,342.62 237.5,341.00 242.5,340.50 248.8,340.25 253.8,340.50 258.1,341.62 261.5,344.50 266.5,348.50 270.2,351.00 274.4,350.75 278.5,348.50 283.8,345.50 290.0,343.25 296.2,342.00 300.0,341.38 301.2,340.75 305.0,339.50 310.0,337.00 316.2,335.50 322.5,334.25 327.5,333.50 332.5,331.38 336.2,331.00 340.0,332.25 345.0,333.88 352.5,335.12 360.0,337.00 367.5,337.62 375.0,338.25 382.5,337.88 387.5,337.25 393.8,336.12 398.8,337.25 403.8,338.88 410.0,339.75 415.0,340.50 420.0,341.88 426.2,342.75 433.8,343.25 440.0,344.25 446.2,344.88 452.5,344.62 458.8,345.25 465.0,345.50 473.8,345.25 480.0,344.00 486.2,344.62 495.0,344.62 500.0,345.00 507.5,345.00 512.5,346.75 518.8,348.25 526.2,348.25 531.2,345.12 537.5,341.38 540.0,339.12 541.2,338.88 545.0,338.50 551.2,337.75 557.5,338.00 565.0,339.50 573.8,340.75 582.5,341.50 590.0,342.25 596.2,343.50 602.5,344.75 610.0,344.75 616.2,343.50 623.8,342.00 630.0,341.75 635.0,340.12 640.0,338.50 645.0,338.00 651.2,338.00 657.5,337.25 660.0,337.20 662.5,338.00 664.0,338.50 668.0,339.50 673.0,339.70 679.0,340.50 683.0,339.20 688.0,338.80 693.0,338.50 697.0,337.80 700.5,337.50 703.0,334.50 707.0,331.50 712.0,329.80 717.0,329.80 722.0,331.20 728.0,333.20 734.0,335.80 740.0,336.00 745.0,336.00 750.0,335.20 756.0,335.00 763.8,334.25 770.0,335.38 773.8,336.75 776.2,338.88 780.0,340.12 781.2,340.50 782.5,340.75 785.0,343.00 788.1,345.12 789.4,350.75 791.2,352.00 795.0,351.38 798.8,349.50 805.0,347.88 810.0,346.00 817.5,345.38 823.8,344.50 830.0,344.50 833.8,346.00 836.2,345.12 841.2,343.00 847.5,342.62 855.0,343.25 865.0,344.50 875.0,344.94 878.8,344.50 880.0,344.50 882.5,344.88 883.8,345.50 887.5,347.62 888.8,348.88 890.0,350.75 891.6,355.31 893.8,356.38 898.8,356.00 901.2,358.25 902.5,358.88 907.5,357.62 912.5,356.38 916.2,355.12 920.0,352.62 925.0,351.62 927.5,352.00 931.2,351.00 936.2,350.50 940.0,354.50 943.8,356.38 947.5,358.88 952.5,358.25 960.0,356.38 966.9,354.75" fill="none" stroke="#050505" stroke-width="2.0" stroke-linejoin="round" stroke-linecap="round"/>
<rect x="63.2" y="312.3" width="904.3" height="70.30000000000001" fill="none" stroke="#8c8c8c" stroke-width="1"/>
<path d="M63.2 317.75h-9M967.5 317.75h9M63.2 332.47h-9M967.5 332.47h9M63.2 347.20h-9M967.5 347.20h9M63.2 361.93h-9M967.5 361.93h9M63.2 376.65h-9M967.5 376.65h9M135.0 312.3v-9M135.0 382.6v9M275.4 312.3v-9M275.4 382.6v9M410.8 312.3v-9M410.8 382.6v9M551.3 312.3v-9M551.3 382.6v9M691.4 312.3v-9M691.4 382.6v9M827.3 312.3v-9M827.3 382.6v9M967.5 312.3v-9M967.5 382.6v9" stroke="#8c8c8c" stroke-width="1" fill="none"/>
<text x="50" y="322.35" font-size="13" text-anchor="end" fill="#262626">100</text>
<text x="50" y="337.07" font-size="13" text-anchor="end" fill="#262626">50</text>
<text x="50" y="351.80" font-size="13" text-anchor="end" fill="#262626">0</text>
<text x="50" y="366.53" font-size="13" text-anchor="end" fill="#262626">-50</text>
<text x="50" y="381.25" font-size="13" text-anchor="end" fill="#262626">-100</text>
<text x="135.0" y="407.6" font-size="12.6" text-anchor="middle" fill="#262626">May</text>
<text x="275.4" y="407.6" font-size="12.6" text-anchor="middle" fill="#262626">Jun</text>
<text x="410.8" y="407.6" font-size="12.6" text-anchor="middle" fill="#262626">Jul</text>
<text x="551.3" y="407.6" font-size="12.6" text-anchor="middle" fill="#262626">Aug</text>
<text x="691.4" y="407.6" font-size="12.6" text-anchor="middle" fill="#262626">Sep</text>
<text x="827.3" y="407.6" font-size="12.6" text-anchor="middle" fill="#262626">Oct</text>
<text x="967.5" y="407.6" font-size="12.6" text-anchor="middle" fill="#262626">Nov</text>
<text x="515" y="424.8" font-size="14.5" text-anchor="middle" fill="#262626">Year 2017</text>
<text x="95.3" y="323.2" font-size="14" fill="#111">8-day Upwelling Index, upwelling &gt; 0</text>
</svg></body></html>
